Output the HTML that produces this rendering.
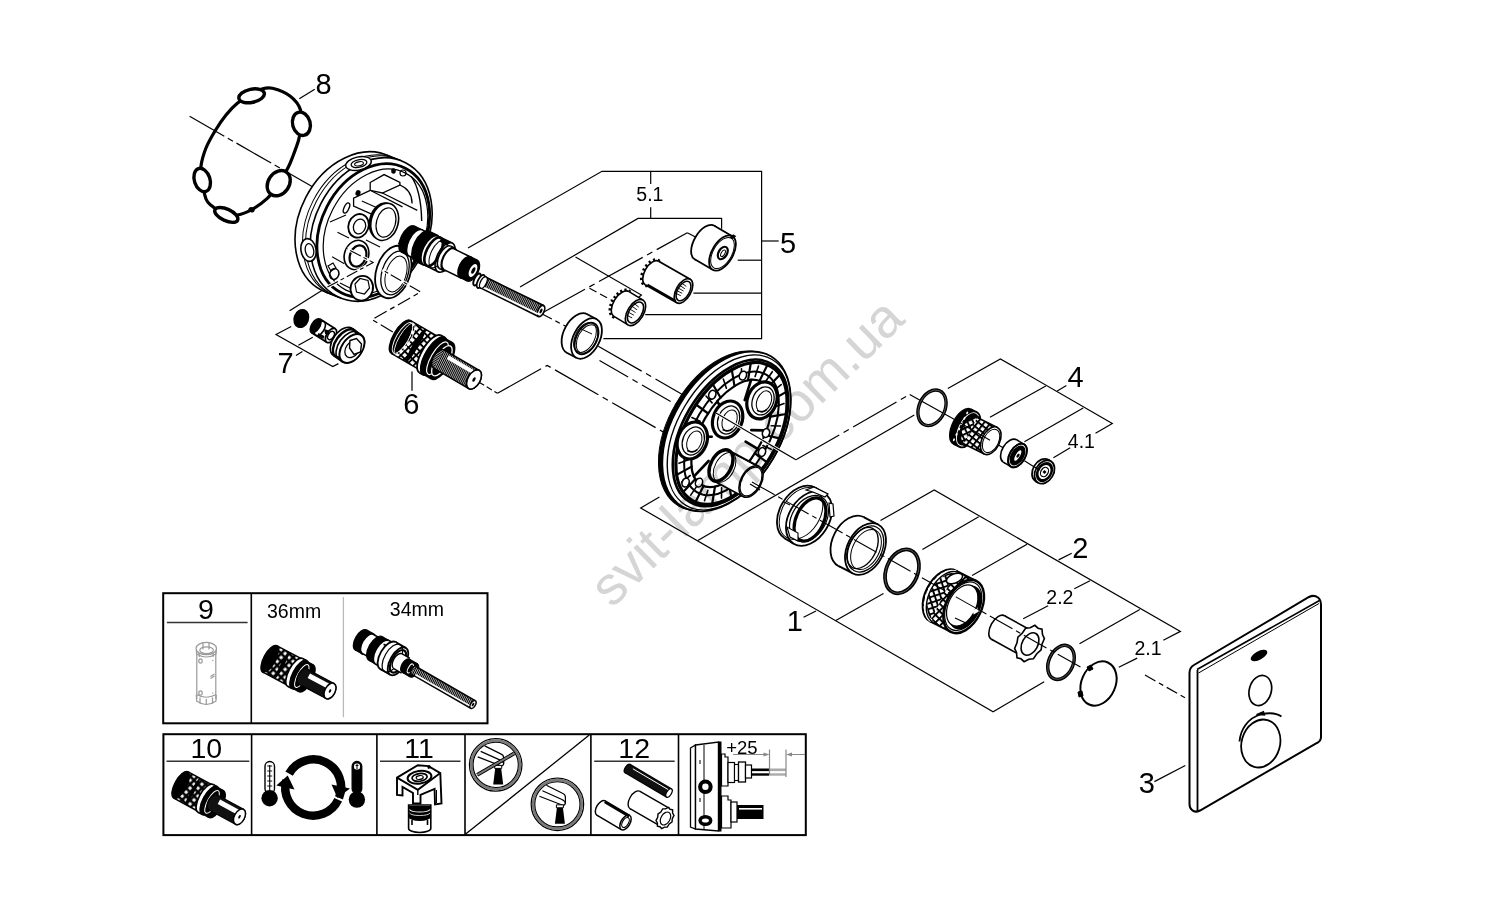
<!DOCTYPE html>
<html><head><meta charset="utf-8"><style>
html,body{margin:0;padding:0;background:#fff;}
body{width:1500px;height:916px;overflow:hidden;position:relative;}
svg{position:absolute;left:0;top:0;display:block;}
text{font-family:"Liberation Sans",sans-serif;}
</style></head><body>
<svg width="1500" height="916" viewBox="0 0 1500 916" stroke-linecap="butt">
<rect width="1500" height="916" fill="#fff"/>
<line x1="189.6" y1="116.3" x2="316" y2="188.7" stroke="#000" stroke-width="1.2" stroke-dasharray="40 4 6 4"/>
<line x1="299.3" y1="98.7" x2="314.7" y2="89.3" stroke="#000" stroke-width="1.2"/>
<polyline points="468,248 602,171.3 761.6,171.3 761.6,338.7 603.4,338.7" stroke="#000" stroke-width="1.2" fill="none"/>
<line x1="761.6" y1="241" x2="778.7" y2="241" stroke="#000" stroke-width="1.2"/>
<line x1="737.7" y1="260.2" x2="761.6" y2="260.2" stroke="#000" stroke-width="1.2"/>
<line x1="693.4" y1="293.1" x2="761.6" y2="293.1" stroke="#000" stroke-width="1.2"/>
<line x1="645.2" y1="314.7" x2="761.6" y2="314.7" stroke="#000" stroke-width="1.2"/>
<line x1="650.7" y1="171.3" x2="650.7" y2="184" stroke="#000" stroke-width="1.2"/>
<line x1="650.7" y1="207.3" x2="650.7" y2="218.4" stroke="#000" stroke-width="1.2"/>
<polyline points="520,287 638,218.4 721.6,218.4 721.6,228.7" stroke="#000" stroke-width="1.2" fill="none"/>
<polyline points="575.5,256.9 641.4,295 634.9,300.5" stroke="#000" stroke-width="1.2" fill="none"/>
<line x1="541.2" y1="313.5" x2="687.3" y2="232.7" stroke="#000" stroke-width="1.2" stroke-dasharray="50 5 6 5"/>
<line x1="687.3" y1="232.7" x2="696" y2="237.3" stroke="#000" stroke-width="1.2"/>
<line x1="589.5" y1="288.2" x2="612.3" y2="300.7" stroke="#000" stroke-width="1.2" stroke-dasharray="8 4"/>
<line x1="541.2" y1="313.5" x2="566.2" y2="326.5" stroke="#000" stroke-width="1.2" stroke-dasharray="12 4 5 4"/>
<line x1="598.3" y1="346.2" x2="684.1" y2="395.5" stroke="#000" stroke-width="1.2" stroke-dasharray="50 5 6 5"/>
<line x1="599.5" y1="360.6" x2="678.1" y2="405.7" stroke="#000" stroke-width="1.2" stroke-dasharray="33 5 6 5"/>
<polyline points="291.2,326.5 276,334.5 332.8,366.5 338.4,363.6" stroke="#000" stroke-width="1.2" fill="none"/>
<line x1="298.4" y1="345.2" x2="312.8" y2="337.2" stroke="#000" stroke-width="1.2"/>
<polyline points="289.6,310.8 327.4,287.1" stroke="#000" stroke-width="1.2" fill="none"/>
<line x1="296" y1="355.6" x2="302.4" y2="351.6" stroke="#000" stroke-width="1.2"/>
<polyline points="392.8,332 372,319.6 420,292.4" stroke="#000" stroke-width="1.2" fill="none" stroke-dasharray="14 4 5 4"/>
<line x1="412" y1="371.6" x2="412" y2="390.8" stroke="#000" stroke-width="1.2"/>
<polyline points="479,382.2 497.5,393.3" stroke="#000" stroke-width="1.2" fill="none" stroke-dasharray="6 3"/>
<polyline points="497.5,393.3 547.2,365.4 665.5,433.3" stroke="#000" stroke-width="1.2" fill="none" stroke-dasharray="50 5 6 5"/>
<line x1="716" y1="413" x2="795.9" y2="459.8" stroke="#000" stroke-width="1.2"/>
<line x1="795.9" y1="459.8" x2="909.7" y2="394.5" stroke="#000" stroke-width="1.2" stroke-dasharray="50 5 6 5"/>
<line x1="909.7" y1="394.5" x2="951" y2="417.4" stroke="#000" stroke-width="1.2"/>
<line x1="990" y1="440.2" x2="1004.5" y2="448.6" stroke="#000" stroke-width="1.2"/>
<line x1="1024.4" y1="460.8" x2="1034.3" y2="466.9" stroke="#000" stroke-width="1.2"/>
<polyline points="947.8,388.5 1000.4,358.9 1112.3,423.4 1095.5,433.3" stroke="#000" stroke-width="1.2" fill="none"/>
<line x1="1045.8" y1="385.9" x2="990" y2="417.2" stroke="#000" stroke-width="1.2"/>
<line x1="1083.2" y1="408" x2="1024.4" y2="441.7" stroke="#000" stroke-width="1.2"/>
<line x1="1057.2" y1="391" x2="1066.4" y2="385.5" stroke="#000" stroke-width="1.2"/>
<line x1="1053.4" y1="457.7" x2="1070.2" y2="447.8" stroke="#000" stroke-width="1.2"/>
<polyline points="659.4,497 640.7,508 993.1,711.8 1044.2,681.7" stroke="#000" stroke-width="1.2" fill="none"/>
<line x1="697.8" y1="540.5" x2="914.3" y2="415.1" stroke="#000" stroke-width="1.2"/>
<line x1="835.8" y1="620.4" x2="883.5" y2="593.4" stroke="#000" stroke-width="1.2"/>
<line x1="803.6" y1="617.3" x2="816" y2="611" stroke="#000" stroke-width="1.2"/>
<polyline points="880.5,520.6 934.2,490 1180.4,631.4 1163.3,640.3" stroke="#000" stroke-width="1.2" fill="none"/>
<line x1="978.7" y1="516.7" x2="922.4" y2="549.4" stroke="#000" stroke-width="1.2"/>
<line x1="1027.1" y1="544.2" x2="972.1" y2="575.6" stroke="#000" stroke-width="1.2"/>
<line x1="1139.8" y1="609.6" x2="1079.5" y2="643.7" stroke="#000" stroke-width="1.2"/>
<polyline points="1090,580.8 1074.3,588.7" stroke="#000" stroke-width="1.2" fill="none"/>
<line x1="1058.6" y1="559.9" x2="1071.7" y2="553.3" stroke="#000" stroke-width="1.2"/>
<line x1="1023.2" y1="618.8" x2="1048.1" y2="605.7" stroke="#000" stroke-width="1.2"/>
<line x1="1118.8" y1="667.3" x2="1137.2" y2="658.1" stroke="#000" stroke-width="1.2"/>
<line x1="1145" y1="675" x2="1188" y2="699.5" stroke="#000" stroke-width="1.2" stroke-dasharray="12 4 5 4"/>
<line x1="1154.4" y1="781.6" x2="1185.3" y2="765.5" stroke="#000" stroke-width="1.2"/>
<text x="315.4" y="93.6" font-size="29" text-anchor="start" fill="#000">8</text>
<text x="780.1" y="252.5" font-size="29" text-anchor="start" fill="#000">5</text>
<text x="636.3" y="200.7" font-size="19.5" text-anchor="start" fill="#000">5.1</text>
<text x="277.6" y="373.4" font-size="29" text-anchor="start" fill="#000">7</text>
<text x="403.2" y="414" font-size="29" text-anchor="start" fill="#000">6</text>
<text x="1067.4" y="386.5" font-size="29" text-anchor="start" fill="#000">4</text>
<text x="1067.8" y="448.4" font-size="19.5" text-anchor="start" fill="#000">4.1</text>
<text x="1072.3" y="558" font-size="29" text-anchor="start" fill="#000">2</text>
<text x="1046.3" y="603.7" font-size="19.5" text-anchor="start" fill="#000">2.2</text>
<text x="1134.5" y="655" font-size="19.5" text-anchor="start" fill="#000">2.1</text>
<text x="786.8" y="630.5" font-size="29" text-anchor="start" fill="#000">1</text>
<text x="1138.8" y="793" font-size="29" text-anchor="start" fill="#000">3</text>
<g fill="none" stroke="#000">
<rect x="163.2" y="593.2" width="324.3" height="130.1" stroke-width="2"/>
<line x1="251.3" y1="593.2" x2="251.3" y2="723.3" stroke="#000" stroke-width="1.6"/>
<line x1="343.4" y1="597" x2="343.4" y2="717.2" stroke="#bbb" stroke-width="1.3"/>
<rect x="163.4" y="734.2" width="642.4" height="100.9" stroke-width="2"/>
<line x1="251.6" y1="734.2" x2="251.6" y2="835.1" stroke="#000" stroke-width="1.6"/>
<line x1="376.9" y1="734.2" x2="376.9" y2="835.1" stroke="#000" stroke-width="1.6"/>
<line x1="465" y1="734.2" x2="465" y2="835.1" stroke="#000" stroke-width="1.6"/>
<line x1="590.9" y1="734.2" x2="590.9" y2="835.1" stroke="#000" stroke-width="1.6"/>
<line x1="678.5" y1="734.2" x2="678.5" y2="835.1" stroke="#000" stroke-width="1.6"/>
<line x1="465" y1="834.6" x2="589.3" y2="735" stroke="#000" stroke-width="1.3"/>
<line x1="166.9" y1="622.5" x2="247.6" y2="622.5" stroke="#333" stroke-width="1.4"/>
<line x1="166.5" y1="761.3" x2="249.3" y2="761.3" stroke="#333" stroke-width="1.4"/>
<line x1="380" y1="761.3" x2="460.5" y2="761.3" stroke="#333" stroke-width="1.4"/>
<line x1="594.2" y1="761.3" x2="674.7" y2="761.3" stroke="#333" stroke-width="1.4"/>
</g>
<text x="198.1" y="619" font-size="28.5" text-anchor="start" fill="#000">9</text>
<text x="190.4" y="758" font-size="28.5" text-anchor="start" fill="#000">10</text>
<text x="404.2" y="758.4" font-size="28.5" text-anchor="start" fill="#000">11</text>
<text x="618.3" y="758" font-size="28.5" text-anchor="start" fill="#000">12</text>
<text x="267" y="618.3" font-size="19.5" text-anchor="start" fill="#000">36mm</text>
<text x="389.8" y="616.2" font-size="19.5" text-anchor="start" fill="#000">34mm</text>
<text x="726.2" y="753.6" font-size="18.5" text-anchor="start" fill="#000">+25</text>
<path d="M272.5,88.3 C277.2,89.5 285.3,92.4 290,96 C294.7,99.6 298.8,104.3 300.5,110 C302.2,115.7 300.3,125 300,130 C299.7,135 299.9,135.5 298.7,139.8 C297.5,144.1 294.8,151.3 293,156 C291.2,160.7 290.5,163 288,167.8 C285.5,172.6 281.4,179.9 278,185 C274.6,190.1 271.7,194.2 267.3,198.3 C262.9,202.4 256.6,206.9 251.6,209.7 C246.6,212.5 242.2,214.3 237.6,215 C233,215.7 228.3,215.5 224,214 C219.7,212.5 215,208.5 212,206 C209,203.5 207.7,203.3 206,199 C204.3,194.7 202.8,185.5 202,180 C201.2,174.5 200.3,171.3 201,166 C201.7,160.7 203.7,153.8 206,148 C208.3,142.2 211.7,136.5 215,131 C218.3,125.5 222.2,119.7 226,115 C229.8,110.3 233.3,106.5 237.6,103 C241.9,99.5 247.9,96.3 252,94 C256.1,91.7 258.6,90 262,89 C265.4,88 267.8,87.1 272.5,88.3Z" fill="none" stroke="#000" stroke-width="3.2"/>
<ellipse cx="251.6" cy="95.8" rx="13" ry="6.6" fill="#fff" stroke="#000" stroke-width="3.4" transform="rotate(-12 251.6 95.8)"/>
<ellipse cx="301.4" cy="123.8" rx="8.8" ry="11.8" fill="#fff" stroke="#000" stroke-width="3.4" transform="rotate(-15 301.4 123.8)"/>
<ellipse cx="278.7" cy="183.2" rx="10.5" ry="13.5" fill="#fff" stroke="#000" stroke-width="3.4" transform="rotate(35 278.7 183.2)"/>
<ellipse cx="202.2" cy="180" rx="7.8" ry="12" fill="#fff" stroke="#000" stroke-width="3.4" transform="rotate(-18 202.2 180)"/>
<ellipse cx="226.3" cy="214.9" rx="12.5" ry="5.8" fill="#fff" stroke="#000" stroke-width="3.4" transform="rotate(25 226.3 214.9)"/>
<ellipse cx="251.6" cy="209.7" rx="3.2" ry="2.6" fill="#000" transform="rotate(20 251.6 209.7)"/>
<ellipse cx="356" cy="223.5" rx="56.6" ry="75.1" fill="#fff" stroke="#000" stroke-width="1.6" transform="rotate(27.2 356 223.5)"/>
<polygon points="386.5,155 401.7,161 340.7,298 325.5,292" stroke="none" stroke-width="0" fill="#fff"/>
<line x1="386.5" y1="155" x2="401.7" y2="161" stroke="#000" stroke-width="1.6"/>
<line x1="325.5" y1="292" x2="340.7" y2="298" stroke="#000" stroke-width="1.6"/>
<ellipse cx="363.5" cy="226.5" rx="56.6" ry="75.1" fill="none" stroke="#000" stroke-width="1.0" transform="rotate(27.2 363.5 226.5)"/>
<ellipse cx="366.5" cy="227.7" rx="56.6" ry="75.1" fill="none" stroke="#000" stroke-width="1.0" transform="rotate(27.2 366.5 227.7)"/>
<ellipse cx="371.2" cy="229.5" rx="56.6" ry="75.1" fill="#fff" stroke="#000" stroke-width="1.6" transform="rotate(27.2 371.2 229.5)"/>
<ellipse cx="373.3" cy="230.5" rx="52.1" ry="70.1" fill="none" stroke="#000" stroke-width="2.8" transform="rotate(27.2 373.3 230.5)"/>
<ellipse cx="375.5" cy="231.5" rx="48.1" ry="65.6" fill="none" stroke="#000" stroke-width="1.2" transform="rotate(27.2 375.5 231.5)"/>
<ellipse cx="358.5" cy="163.5" rx="13" ry="6.5" fill="#fff" stroke="#000" stroke-width="1.4" transform="rotate(-12 358.5 163.5)"/>
<ellipse cx="359" cy="163.5" rx="8" ry="3.8" fill="none" stroke="#000" stroke-width="1.3" transform="rotate(-12 359 163.5)"/>
<ellipse cx="359" cy="163.8" rx="4.5" ry="2" fill="none" stroke="#000" stroke-width="1.1" transform="rotate(-12 359 163.8)"/>
<ellipse cx="308.5" cy="250" rx="7.5" ry="11.5" fill="#fff" stroke="#000" stroke-width="1.6" transform="rotate(-10 308.5 250)"/>
<ellipse cx="309.5" cy="250.5" rx="4.2" ry="7" fill="none" stroke="#000" stroke-width="1.3" transform="rotate(-10 309.5 250.5)"/>
<polygon points="370.2,182.5 384.1,174.6 399.9,182.5 399.9,185 382.4,193 370.2,190.3" stroke="#000" stroke-width="1.3" fill="#fff"/>
<line x1="370.2" y1="190.3" x2="402.5" y2="206.9" stroke="#000" stroke-width="1.2"/>
<line x1="382.4" y1="193" x2="417.3" y2="210.4" stroke="#000" stroke-width="1.2"/>
<path d="M399.9,185 Q412,190 412.1,203.4" fill="none" stroke="#000" stroke-width="1.3"/>
<polyline points="370.2,190.3 353.6,198.2 353.6,206 378.9,217.4" stroke="#000" stroke-width="1.3" fill="none"/>
<path d="M411.2,176.4 Q421,190 421.7,220.9" fill="none" stroke="#000" stroke-width="1.4"/>
<line x1="337.4" y1="232.3" x2="349" y2="238" stroke="#000" stroke-width="1.1"/>
<line x1="361.8" y1="200.9" x2="381" y2="209.6" stroke="#000" stroke-width="1.1"/>
<line x1="332.1" y1="256.7" x2="344.4" y2="263.7" stroke="#000" stroke-width="1.1"/>
<line x1="366" y1="240" x2="380" y2="247" stroke="#000" stroke-width="1.1"/>
<line x1="398" y1="243" x2="412" y2="250" stroke="#000" stroke-width="1.1"/>
<line x1="340" y1="283" x2="352" y2="289" stroke="#000" stroke-width="1.1"/>
<line x1="330" y1="222" x2="346" y2="215" stroke="#000" stroke-width="1.1"/>
<path d="M328,266 L333,263 L336,268 L331,271 Z" fill="#fff" stroke="#000" stroke-width="1.2"/>
<ellipse cx="358.5" cy="225.8" rx="10" ry="12" fill="#fff" stroke="#000" stroke-width="1.8" transform="rotate(20 358.5 225.8)"/>
<ellipse cx="359.5" cy="226.5" rx="6" ry="7.5" fill="none" stroke="#000" stroke-width="1.3" transform="rotate(20 359.5 226.5)"/>
<ellipse cx="382.5" cy="221" rx="13.5" ry="19" fill="#000" transform="rotate(15 382.5 221)"/>
<ellipse cx="384.7" cy="221.8" rx="13.5" ry="19" fill="#fff" stroke="#000" stroke-width="1.6" transform="rotate(15 384.7 221.8)"/>
<ellipse cx="386" cy="222.5" rx="9.5" ry="15" fill="none" stroke="#000" stroke-width="1.2" transform="rotate(15 386 222.5)"/>
<ellipse cx="356.5" cy="255" rx="12" ry="15" fill="#fff" stroke="#000" stroke-width="1.6" transform="rotate(20 356.5 255)"/>
<ellipse cx="358" cy="256" rx="8" ry="11" fill="none" stroke="#000" stroke-width="2.2" transform="rotate(20 358 256)"/>
<ellipse cx="393.3" cy="272" rx="17" ry="27" fill="#fff" stroke="#000" stroke-width="1.8" transform="rotate(18 393.3 272)"/>
<ellipse cx="395" cy="273" rx="13" ry="22.5" fill="none" stroke="#000" stroke-width="1.3" transform="rotate(18 395 273)"/>
<ellipse cx="396" cy="274" rx="10" ry="18.5" fill="none" stroke="#000" stroke-width="1.0" transform="rotate(18 396 274)"/>
<ellipse cx="361.8" cy="288.2" rx="11.2" ry="12.4" fill="#fff" stroke="#000" stroke-width="1.8" transform="rotate(15 361.8 288.2)"/>
<polygon points="355,284 360,278.5 368,280.5 369.5,288 364.5,294 356.5,292" stroke="#000" stroke-width="1.2" fill="none"/>
<ellipse cx="334.3" cy="274" rx="4.5" ry="5.5" fill="none" stroke="#000" stroke-width="1.5" transform="rotate(20 334.3 274)"/>
<ellipse cx="346.5" cy="208" rx="2.4" ry="5.5" fill="none" stroke="#000" stroke-width="1.4" transform="rotate(25 346.5 208)"/>
<ellipse cx="358" cy="193" rx="2.5" ry="3" fill="#000" transform="rotate(20 358 193)"/>
<ellipse cx="393.5" cy="171" rx="2.3" ry="2.8" fill="#000"/>
<ellipse cx="403" cy="173" rx="3" ry="3" fill="none" stroke="#000" stroke-width="1.2"/>
<g stroke-linecap="butt">
<polyline points="327.4,287.1 373.2,262.5 346.9,248.7" stroke="#fff" stroke-width="3.2" fill="none"/>
<polyline points="327.4,287.1 373.2,262.5 346.9,248.7" stroke="#000" stroke-width="1.1" fill="none" stroke-dasharray="12 3 4 3"/>
<polyline points="420.2,291.7 382.4,269.9" stroke="#fff" stroke-width="3.2" fill="none"/>
<polyline points="420.2,291.7 382.4,269.9" stroke="#000" stroke-width="1.1" fill="none" stroke-dasharray="12 3 4 3"/>
</g>
<ellipse cx="408" cy="239.2" rx="7.2" ry="14.5" fill="#000" stroke="#000" stroke-width="1.4" transform="rotate(26.1 408 239.2)"/>
<polygon points="401.6,252.2 409.3,256 422.1,229.9 414.4,226.2" stroke="none" stroke-width="0" fill="#000"/>
<line x1="401.6" y1="252.2" x2="409.3" y2="256" stroke="#000" stroke-width="1.4"/>
<line x1="422.1" y1="229.9" x2="414.4" y2="226.2" stroke="#000" stroke-width="1.4"/>
<ellipse cx="415.7" cy="243" rx="7.2" ry="14.5" fill="#000" stroke="#000" stroke-width="1.4" transform="rotate(26.1 415.7 243)"/>
<ellipse cx="415.7" cy="243" rx="7.2" ry="14.5" fill="#fff" stroke="#000" stroke-width="1.4" transform="rotate(26.1 415.7 243)"/>
<polygon points="409.3,256 415.7,259.1 428.5,233.1 422.1,229.9" stroke="none" stroke-width="0" fill="#fff"/>
<line x1="409.3" y1="256" x2="415.7" y2="259.1" stroke="#000" stroke-width="1.4"/>
<line x1="428.5" y1="233.1" x2="422.1" y2="229.9" stroke="#000" stroke-width="1.4"/>
<ellipse cx="422.1" cy="246.1" rx="7.2" ry="14.5" fill="#fff" stroke="#000" stroke-width="1.4" transform="rotate(26.1 422.1 246.1)"/>
<ellipse cx="422.1" cy="246.1" rx="8.2" ry="16.5" fill="#000" stroke="#000" stroke-width="1.4" transform="rotate(26.1 422.1 246.1)"/>
<polygon points="414.8,260.9 423.8,265.3 438.3,235.6 429.3,231.3" stroke="none" stroke-width="0" fill="#000"/>
<line x1="414.8" y1="260.9" x2="423.8" y2="265.3" stroke="#000" stroke-width="1.4"/>
<line x1="438.3" y1="235.6" x2="429.3" y2="231.3" stroke="#000" stroke-width="1.4"/>
<ellipse cx="431" cy="250.5" rx="8" ry="16" fill="#fff" stroke="#000" stroke-width="1.6" transform="rotate(26.1 431 250.5)"/>
<polygon points="424,264.8 438.1,271.7 452.1,243 438.1,236.1" stroke="none" stroke-width="0" fill="#fff"/>
<line x1="424" y1="264.8" x2="438.1" y2="271.7" stroke="#000" stroke-width="1.6"/>
<line x1="452.1" y1="243" x2="438.1" y2="236.1" stroke="#000" stroke-width="1.6"/>
<ellipse cx="445.1" cy="257.4" rx="8" ry="16" fill="#fff" stroke="#000" stroke-width="1.6" transform="rotate(26.1 445.1 257.4)"/>
<ellipse cx="433.6" cy="251.7" rx="7" ry="15.5" fill="none" stroke="#000" stroke-width="2.6" transform="rotate(26.1 433.6 251.7)"/>
<ellipse cx="438.1" cy="253.9" rx="7" ry="15" fill="none" stroke="#000" stroke-width="1.0" transform="rotate(26.1 438.1 253.9)"/>
<path d="M439.3,241.5 l8,4 l3,-3 l-8,-4z" fill="#000"/>
<ellipse cx="445.1" cy="257.4" rx="6.2" ry="12.5" fill="#fff" stroke="#000" stroke-width="1.6" transform="rotate(26.1 445.1 257.4)"/>
<polygon points="439.6,268.6 443.5,270.5 454.5,248 450.6,246.1" stroke="none" stroke-width="0" fill="#fff"/>
<line x1="439.6" y1="268.6" x2="443.5" y2="270.5" stroke="#000" stroke-width="1.6"/>
<line x1="454.5" y1="248" x2="450.6" y2="246.1" stroke="#000" stroke-width="1.6"/>
<ellipse cx="449" cy="259.2" rx="6.2" ry="12.5" fill="#fff" stroke="#000" stroke-width="1.6" transform="rotate(26.1 449 259.2)"/>
<ellipse cx="449" cy="259.2" rx="5.8" ry="11.5" fill="#fff" stroke="#000" stroke-width="1.6" transform="rotate(26.1 449 259.2)"/>
<polygon points="443.9,269.6 460.5,277.7 470.7,257 454,248.9" stroke="none" stroke-width="0" fill="#fff"/>
<line x1="443.9" y1="269.6" x2="460.5" y2="277.7" stroke="#000" stroke-width="1.6"/>
<line x1="470.7" y1="257" x2="454" y2="248.9" stroke="#000" stroke-width="1.6"/>
<ellipse cx="465.6" cy="267.4" rx="5.8" ry="11.5" fill="#fff" stroke="#000" stroke-width="1.6" transform="rotate(26.1 465.6 267.4)"/>
<ellipse cx="465.6" cy="267.4" rx="6.3" ry="11.5" fill="#000" stroke="#000" stroke-width="1.4" transform="rotate(26.1 465.6 267.4)"/>
<polygon points="460.5,277.7 466.9,280.8 477.1,260.2 470.7,257" stroke="none" stroke-width="0" fill="#000"/>
<line x1="460.5" y1="277.7" x2="466.9" y2="280.8" stroke="#000" stroke-width="1.4"/>
<line x1="477.1" y1="260.2" x2="470.7" y2="257" stroke="#000" stroke-width="1.4"/>
<ellipse cx="472" cy="270.5" rx="6.3" ry="11.5" fill="#000" stroke="#000" stroke-width="1.4" transform="rotate(26.1 472 270.5)"/>
<ellipse cx="473" cy="270.5" rx="3.5" ry="7" fill="#fff" transform="rotate(26.1 473 270.5)"/>
<ellipse cx="473.3" cy="270.5" rx="1.6" ry="3.5" fill="#000" transform="rotate(26.1 473.3 270.5)"/>
<defs><pattern id="kn" width="5" height="5" patternUnits="userSpaceOnUse" patternTransform="rotate(45)"><rect width="5" height="5" fill="#000"/><rect x="1.3" y="1.3" width="2.6" height="2.6" fill="#fff"/></pattern><pattern id="kn2" width="4.2" height="4.2" patternUnits="userSpaceOnUse" patternTransform="rotate(45)"><rect width="4.2" height="4.2" fill="#000"/><rect x="1.2" y="1.2" width="1.9" height="1.9" fill="#fff"/></pattern><pattern id="thr" width="1.8" height="10" patternUnits="userSpaceOnUse" patternTransform="rotate(26)"><rect width="1.8" height="10" fill="#fff"/><rect width="1.2" height="10" fill="#000"/></pattern><pattern id="thr2" width="2.2" height="10" patternUnits="userSpaceOnUse" patternTransform="rotate(30)"><rect width="2.2" height="10" fill="#fff"/><rect width="1.0" height="10" fill="#000"/></pattern><pattern id="kn3" width="4.6" height="4.6" patternUnits="userSpaceOnUse" patternTransform="rotate(40)"><rect width="4.6" height="4.6" fill="#fff"/><rect width="4.6" height="1.2" fill="#000"/><rect width="1.2" height="4.6" fill="#000"/></pattern><pattern id="kn4" width="5.2" height="5.2" patternUnits="userSpaceOnUse" patternTransform="rotate(38)"><rect width="5.2" height="5.2" fill="#fff"/><rect width="5.2" height="1.9" fill="#000"/><rect width="1.9" height="5.2" fill="#000"/></pattern><pattern id="kn5" width="5.6" height="5.6" patternUnits="userSpaceOnUse" patternTransform="rotate(45)"><rect width="5.6" height="5.6" fill="#000"/><rect x="1.4" y="1.4" width="3" height="3" fill="#fff"/></pattern><pattern id="kn6" width="5.4" height="5.4" patternUnits="userSpaceOnUse" patternTransform="rotate(45)"><rect width="5.4" height="5.4" fill="#000"/><rect x="1" y="1" width="3.5" height="3.5" fill="#fff"/></pattern></defs>
<ellipse cx="483.4" cy="282.6" rx="3" ry="6" fill="url(#thr)" stroke="#000" stroke-width="1.7" transform="rotate(26.2 483.4 282.6)"/>
<polygon points="480.8,288 538.4,316.4 543.6,305.6 486,277.3" stroke="none" stroke-width="0" fill="url(#thr)"/>
<line x1="480.8" y1="288" x2="538.4" y2="316.4" stroke="#000" stroke-width="1.7"/>
<line x1="543.6" y1="305.6" x2="486" y2="277.3" stroke="#000" stroke-width="1.7"/>
<ellipse cx="541" cy="311" rx="3" ry="6" fill="#fff" stroke="#000" stroke-width="1.7" transform="rotate(26.2 541 311)"/>
<polygon points="483.3,286.2 538.3,313.2 537.4,315 482.4,287.9" stroke="none" stroke-width="0" fill="#fff"/>
<ellipse cx="477" cy="279.5" rx="2.6" ry="6.5" fill="#fff" stroke="#000" stroke-width="1.8" transform="rotate(26.2 477 279.5)"/>
<ellipse cx="480.8" cy="281.4" rx="3" ry="7.2" fill="#fff" stroke="#000" stroke-width="1.8" transform="rotate(26.2 480.8 281.4)"/>
<ellipse cx="483.4" cy="282.6" rx="3" ry="6.3" fill="#fff" stroke="#000" stroke-width="1.4" transform="rotate(26.2 483.4 282.6)"/>
<ellipse cx="541" cy="311" rx="1.2" ry="2.6" fill="#000" transform="rotate(26.2 541 311)"/>
<ellipse cx="301.3" cy="318.5" rx="7.8" ry="9.8" fill="#000" transform="rotate(20 301.3 318.5)"/>
<ellipse cx="316" cy="326" rx="4.4" ry="8" fill="#fff" stroke="#000" stroke-width="1.8" transform="rotate(32.3 316 326)"/>
<polygon points="311.7,332.8 326.7,342.3 335.3,328.7 320.3,319.2" stroke="none" stroke-width="0" fill="#fff"/>
<line x1="311.7" y1="332.8" x2="326.7" y2="342.3" stroke="#000" stroke-width="1.8"/>
<line x1="335.3" y1="328.7" x2="320.3" y2="319.2" stroke="#000" stroke-width="1.8"/>
<ellipse cx="331" cy="335.5" rx="4.4" ry="8" fill="#fff" stroke="#000" stroke-width="1.8" transform="rotate(32.3 331 335.5)"/>
<ellipse cx="316" cy="326" rx="4.4" ry="8" fill="#000" transform="rotate(32.3 316 326)"/>
<ellipse cx="319.8" cy="328.4" rx="4.4" ry="8" fill="none" stroke="#000" stroke-width="1.6" transform="rotate(32.3 319.8 328.4)"/>
<path d="M324.1,329.0 l5,1.5 l1,5 l-5,-1.5z" fill="#000"/>
<path d="M318.4,333.1 l6,3 l-1,3 l-6,-3z" fill="#000"/>
<ellipse cx="331" cy="335.5" rx="2.8" ry="4.5" fill="#fff" stroke="#000" stroke-width="1.4" transform="rotate(32.3 331 335.5)"/>
<line x1="334" y1="339" x2="340" y2="342" stroke="#000" stroke-width="1.2"/>
<ellipse cx="343" cy="342" rx="10.2" ry="16.5" fill="#fff" stroke="#000" stroke-width="1.6" transform="rotate(35.8 343 342)"/>
<polygon points="333.3,355.4 342.3,361.9 361.7,335.1 352.7,328.6" stroke="none" stroke-width="0" fill="#fff"/>
<line x1="333.3" y1="355.4" x2="342.3" y2="361.9" stroke="#000" stroke-width="1.6"/>
<line x1="361.7" y1="335.1" x2="352.7" y2="328.6" stroke="#000" stroke-width="1.6"/>
<ellipse cx="352" cy="348.5" rx="10.2" ry="16.5" fill="#fff" stroke="#000" stroke-width="1.6" transform="rotate(35.8 352 348.5)"/>
<ellipse cx="344.8" cy="343.3" rx="9" ry="16" fill="none" stroke="#000" stroke-width="2.4" transform="rotate(35.8 344.8 343.3)"/>
<ellipse cx="347.9" cy="345.6" rx="9" ry="16" fill="none" stroke="#000" stroke-width="1.6" transform="rotate(35.8 347.9 345.6)"/>
<ellipse cx="352" cy="348.5" rx="10" ry="16" fill="#fff" stroke="#000" stroke-width="1.6" transform="rotate(35.8 352 348.5)"/>
<ellipse cx="352.5" cy="349" rx="6.5" ry="9.5" fill="#fff" stroke="#000" stroke-width="1.3" transform="rotate(35.8 352.5 349)"/>
<polygon points="350,340.5 356.5,338.5 361.5,344 360.5,352 354,354.5 349.5,348" stroke="#000" stroke-width="1.4" fill="#fff"/>
<ellipse cx="401" cy="337" rx="7.6" ry="19" fill="url(#kn6)" stroke="#000" stroke-width="1.6" transform="rotate(30.2 401 337)"/>
<polygon points="391.4,353.4 420.6,370.4 439.8,337.6 410.6,320.6" stroke="none" stroke-width="0" fill="url(#kn6)"/>
<line x1="391.4" y1="353.4" x2="420.6" y2="370.4" stroke="#000" stroke-width="1.6"/>
<line x1="439.8" y1="337.6" x2="410.6" y2="320.6" stroke="#000" stroke-width="1.6"/>
<ellipse cx="401" cy="337" rx="7.6" ry="19" fill="#000" transform="rotate(30.2 401 337)"/>
<ellipse cx="402.5" cy="337.9" rx="6.1" ry="17.5" fill="none" stroke="#fff" stroke-width="0.9" transform="rotate(30.2 402.5 337.9)"/>
<ellipse cx="404.6" cy="339.1" rx="5.7" ry="18.2" fill="none" stroke="#fff" stroke-width="0.8" transform="rotate(30.2 404.6 339.1)"/>
<ellipse cx="415.6" cy="345.5" rx="3" ry="19" fill="#000" transform="rotate(30.2 415.6 345.5)"/>
<ellipse cx="430.2" cy="354" rx="7.6" ry="19" fill="#000" transform="rotate(30.2 430.2 354)"/>
<ellipse cx="430.2" cy="354" rx="8.6" ry="21.5" fill="#fff" stroke="#000" stroke-width="1.8" transform="rotate(30.2 430.2 354)"/>
<polygon points="419.4,372.6 423,374.7 444.7,337.5 441,335.4" stroke="none" stroke-width="0" fill="#fff"/>
<line x1="419.4" y1="372.6" x2="423" y2="374.7" stroke="#000" stroke-width="1.8"/>
<line x1="444.7" y1="337.5" x2="441" y2="335.4" stroke="#000" stroke-width="1.8"/>
<ellipse cx="433.9" cy="356.1" rx="8.6" ry="21.5" fill="#fff" stroke="#000" stroke-width="1.8" transform="rotate(30.2 433.9 356.1)"/>
<ellipse cx="433.9" cy="356.1" rx="8.4" ry="21" fill="#000" stroke="#000" stroke-width="1.4" transform="rotate(30.2 433.9 356.1)"/>
<polygon points="423.3,374.3 431.3,378.9 452.4,342.7 444.4,338" stroke="none" stroke-width="0" fill="#000"/>
<line x1="423.3" y1="374.3" x2="431.3" y2="378.9" stroke="#000" stroke-width="1.4"/>
<line x1="452.4" y1="342.7" x2="444.4" y2="338" stroke="#000" stroke-width="1.4"/>
<ellipse cx="441.9" cy="360.8" rx="8.4" ry="21" fill="#000" stroke="#000" stroke-width="1.4" transform="rotate(30.2 441.9 360.8)"/>
<ellipse cx="437.5" cy="358.2" rx="6.5" ry="18.5" fill="none" stroke="#fff" stroke-width="1.2" transform="rotate(30.2 437.5 358.2)"/>
<ellipse cx="441.9" cy="360.8" rx="6.5" ry="17" fill="#000" stroke="#fff" stroke-width="1.3" transform="rotate(30.2 441.9 360.8)"/>
<ellipse cx="439" cy="359.1" rx="6.1" ry="10.5" fill="url(#thr)" stroke="#000" stroke-width="1.5" transform="rotate(30.2 439 359.1)"/>
<polygon points="433.7,368.2 468.7,388.6 479.3,370.4 444.2,350" stroke="none" stroke-width="0" fill="url(#thr)"/>
<line x1="433.7" y1="368.2" x2="468.7" y2="388.6" stroke="#000" stroke-width="1.5"/>
<line x1="479.3" y1="370.4" x2="444.2" y2="350" stroke="#000" stroke-width="1.5"/>
<ellipse cx="474" cy="379.5" rx="6.1" ry="10.5" fill="#fff" stroke="#000" stroke-width="1.5" transform="rotate(30.2 474 379.5)"/>
<polygon points="446.8,359 471.6,373.5 473.6,370 448.8,355.6" stroke="none" stroke-width="0" fill="#fff"/>
<ellipse cx="474" cy="379.5" rx="6.1" ry="10.5" fill="#fff" stroke="#000" stroke-width="1.6" transform="rotate(30.2 474 379.5)"/>
<ellipse cx="474" cy="379.5" rx="1.3" ry="2.5" fill="#000" transform="rotate(30.2 474 379.5)"/>
<ellipse cx="577" cy="333.5" rx="13.1" ry="21.8" fill="#fff" stroke="#000" stroke-width="1.8" transform="rotate(27.8 577 333.5)"/>
<polygon points="566.8,352.8 576.3,357.8 596.7,319.2 587.2,314.2" stroke="none" stroke-width="0" fill="#fff"/>
<line x1="566.8" y1="352.8" x2="576.3" y2="357.8" stroke="#000" stroke-width="1.8"/>
<line x1="596.7" y1="319.2" x2="587.2" y2="314.2" stroke="#000" stroke-width="1.8"/>
<ellipse cx="586.5" cy="338.5" rx="13.1" ry="21.8" fill="#fff" stroke="#000" stroke-width="1.8" transform="rotate(27.8 586.5 338.5)"/>
<ellipse cx="586.5" cy="338.5" rx="10.2" ry="17" fill="#fff" stroke="#000" stroke-width="1.8" transform="rotate(27.8 586.5 338.5)"/>
<ellipse cx="587.1" cy="338.9" rx="9.2" ry="15.3" fill="none" stroke="#000" stroke-width="1.0" transform="rotate(27.8 587.1 338.9)"/>
<ellipse cx="585" cy="337.5" rx="9.7" ry="16.1" fill="none" stroke="#000" stroke-width="1.0" transform="rotate(27.8 585 337.5)"/>
<line x1="579" y1="328" x2="592" y2="334" stroke="#000" stroke-width="1.0"/>
<ellipse cx="620.9" cy="303.7" rx="8.8" ry="15.3" fill="none" stroke="#000" stroke-width="2.8" stroke-dasharray="2.2 2.2" transform="rotate(31.3 620.9 303.7)"/>
<ellipse cx="621.5" cy="304" rx="8" ry="14.5" fill="#fff" stroke="#000" stroke-width="1.6" transform="rotate(31.3 621.5 304)"/>
<polygon points="614,316.4 628,324.9 643,300.1 629,291.6" stroke="none" stroke-width="0" fill="#fff"/>
<line x1="614" y1="316.4" x2="628" y2="324.9" stroke="#000" stroke-width="1.6"/>
<line x1="643" y1="300.1" x2="629" y2="291.6" stroke="#000" stroke-width="1.6"/>
<ellipse cx="635.5" cy="312.5" rx="8" ry="14.5" fill="#fff" stroke="#000" stroke-width="1.6" transform="rotate(31.3 635.5 312.5)"/>
<ellipse cx="635.5" cy="312.5" rx="6.4" ry="11.6" fill="#fff" stroke="#000" stroke-width="1.6" transform="rotate(31.3 635.5 312.5)"/>
<line x1="633.5" y1="303.1" x2="638.8" y2="307.1" stroke="#000" stroke-width="0.9"/>
<line x1="631.7" y1="306.1" x2="637.1" y2="309.8" stroke="#000" stroke-width="0.9"/>
<line x1="629.9" y1="309.1" x2="635.5" y2="312.5" stroke="#000" stroke-width="0.9"/>
<line x1="628.1" y1="312.1" x2="633.9" y2="315.2" stroke="#000" stroke-width="0.9"/>
<line x1="626.3" y1="315.1" x2="632.2" y2="317.9" stroke="#000" stroke-width="0.9"/>
<ellipse cx="651.4" cy="272.7" rx="8.2" ry="14.3" fill="none" stroke="#000" stroke-width="2.8" stroke-dasharray="2.2 2.6" transform="rotate(29.7 651.4 272.7)"/>
<ellipse cx="652" cy="273" rx="7.4" ry="13.5" fill="#fff" stroke="#000" stroke-width="1.7" transform="rotate(29.7 652 273)"/>
<polygon points="645.3,284.7 676.8,302.7 690.2,279.3 658.7,261.3" stroke="none" stroke-width="0" fill="#fff"/>
<line x1="645.3" y1="284.7" x2="676.8" y2="302.7" stroke="#000" stroke-width="1.7"/>
<line x1="690.2" y1="279.3" x2="658.7" y2="261.3" stroke="#000" stroke-width="1.7"/>
<ellipse cx="683.5" cy="291" rx="7.4" ry="13.5" fill="#fff" stroke="#000" stroke-width="1.7" transform="rotate(29.7 683.5 291)"/>
<ellipse cx="683.5" cy="291" rx="5.9" ry="10.8" fill="#fff" stroke="#000" stroke-width="1.5" transform="rotate(29.7 683.5 291)"/>
<line x1="680.8" y1="282.6" x2="686.2" y2="286.3" stroke="#000" stroke-width="0.9"/>
<line x1="679.3" y1="285.2" x2="684.8" y2="288.7" stroke="#000" stroke-width="0.9"/>
<line x1="677.8" y1="287.8" x2="683.5" y2="291" stroke="#000" stroke-width="0.9"/>
<line x1="676.3" y1="290.4" x2="682.2" y2="293.3" stroke="#000" stroke-width="0.9"/>
<line x1="674.9" y1="293" x2="680.8" y2="295.7" stroke="#000" stroke-width="0.9"/>
<line x1="647.4" y1="284.8" x2="675.7" y2="301" stroke="#000" stroke-width="2.4"/>
<ellipse cx="704.5" cy="242.5" rx="10.5" ry="19.5" fill="#fff" stroke="#000" stroke-width="1.8" transform="rotate(30.3 704.5 242.5)"/>
<polygon points="694.7,259.3 712.7,269.8 732.3,236.2 714.3,225.7" stroke="none" stroke-width="0" fill="#fff"/>
<line x1="694.7" y1="259.3" x2="712.7" y2="269.8" stroke="#000" stroke-width="1.8"/>
<line x1="732.3" y1="236.2" x2="714.3" y2="225.7" stroke="#000" stroke-width="1.8"/>
<ellipse cx="722.5" cy="253" rx="10.5" ry="19.5" fill="#fff" stroke="#000" stroke-width="1.8" transform="rotate(30.3 722.5 253)"/>
<ellipse cx="722.5" cy="253" rx="9.3" ry="17.2" fill="none" stroke="#000" stroke-width="1.0" transform="rotate(30.3 722.5 253)"/>
<ellipse cx="722.8" cy="253" rx="4.2" ry="6.8" fill="none" stroke="#000" stroke-width="2.2" transform="rotate(30.3 722.8 253)"/>
<ellipse cx="723" cy="253.3" rx="1.8" ry="3.6" fill="none" stroke="#000" stroke-width="1.0" transform="rotate(30.3 723 253.3)"/>
<path d="M729.3,237.3 l4,-3 l3,2 l-4,3z" fill="#000"/>
<ellipse cx="723" cy="430.9" rx="54.4" ry="87.2" fill="#000" stroke="#000" stroke-width="1.0" transform="rotate(30.6 723 430.9)"/>
<ellipse cx="726.5" cy="431.4" rx="53.9" ry="87.2" fill="#fff" stroke="#000" stroke-width="1.8" transform="rotate(30.6 726.5 431.4)"/>
<ellipse cx="729" cy="432.4" rx="51.4" ry="84.7" fill="none" stroke="#000" stroke-width="1.4" transform="rotate(30.6 729 432.4)"/>
<ellipse cx="730.5" cy="432.9" rx="47.4" ry="80.2" fill="none" stroke="#000" stroke-width="2.6" transform="rotate(30.6 730.5 432.9)"/>
<ellipse cx="731.5" cy="433.4" rx="44.4" ry="76.7" fill="none" stroke="#000" stroke-width="1.2" transform="rotate(30.6 731.5 433.4)"/>
<ellipse cx="731.5" cy="433.4" rx="45.4" ry="77.7" fill="#fff" stroke="#000" stroke-width="3.2" transform="rotate(30.6 731.5 433.4)"/>
<ellipse cx="731.5" cy="433.4" rx="37.4" ry="68.2" fill="none" stroke="#000" stroke-width="2.0" transform="rotate(30.6 731.5 433.4)"/>
<ellipse cx="731.5" cy="433.4" rx="30.4" ry="59.7" fill="none" stroke="#000" stroke-width="2.2" transform="rotate(30.6 731.5 433.4)"/>
<g stroke="#000" stroke-width="2.2" stroke-linecap="round">
<line x1="767.0" y1="462.3" x2="754.9" y2="453.3"/>
<line x1="750.2" y1="482.6" x2="742.4" y2="469.1"/>
<line x1="731.2" y1="497.0" x2="728.5" y2="480.7"/>
<line x1="712.2" y1="503.8" x2="715.0" y2="486.5"/>
<line x1="695.5" y1="502.0" x2="703.5" y2="485.9"/>
<line x1="683.2" y1="492.0" x2="695.4" y2="479.0"/>
<line x1="676.7" y1="474.9" x2="691.6" y2="466.6"/>
<line x1="676.8" y1="452.8" x2="692.6" y2="450.2"/>
<line x1="683.5" y1="428.4" x2="698.4" y2="431.8"/>
<line x1="696.0" y1="404.5" x2="708.1" y2="413.5"/>
<line x1="712.8" y1="384.2" x2="720.6" y2="397.7"/>
<line x1="731.8" y1="369.8" x2="734.5" y2="386.1"/>
<line x1="750.8" y1="363.0" x2="748.0" y2="380.3"/>
<line x1="767.5" y1="364.8" x2="759.5" y2="380.9"/>
<line x1="779.8" y1="374.8" x2="767.6" y2="387.8"/>
<line x1="786.3" y1="391.9" x2="771.4" y2="400.2"/>
<line x1="786.2" y1="414.0" x2="770.4" y2="416.6"/>
<line x1="779.5" y1="438.4" x2="764.6" y2="435.0"/>
<line x1="757.0" y1="470.8" x2="750.9" y2="463.9" stroke-width="1.6"/>
<line x1="739.7" y1="487.7" x2="736.6" y2="478.5" stroke-width="1.6"/>
<line x1="721.5" y1="498.1" x2="721.6" y2="487.7" stroke-width="1.6"/>
<line x1="704.5" y1="500.7" x2="707.9" y2="490.3" stroke-width="1.6"/>
<line x1="690.7" y1="495.1" x2="696.9" y2="486.1" stroke-width="1.6"/>
<line x1="681.8" y1="482.2" x2="690.2" y2="475.5" stroke-width="1.6"/>
<line x1="679.0" y1="463.3" x2="688.4" y2="459.8" stroke-width="1.6"/>
<line x1="682.5" y1="440.8" x2="691.8" y2="441.0" stroke-width="1.6"/>
<line x1="691.9" y1="417.5" x2="700.1" y2="421.2" stroke-width="1.6"/>
<line x1="706.0" y1="396.0" x2="712.1" y2="402.9" stroke-width="1.6"/>
<line x1="723.3" y1="379.1" x2="726.4" y2="388.3" stroke-width="1.6"/>
<line x1="741.5" y1="368.7" x2="741.4" y2="379.1" stroke-width="1.6"/>
<line x1="758.5" y1="366.1" x2="755.1" y2="376.5" stroke-width="1.6"/>
<line x1="772.3" y1="371.7" x2="766.1" y2="380.7" stroke-width="1.6"/>
<line x1="781.2" y1="384.6" x2="772.8" y2="391.3" stroke-width="1.6"/>
<line x1="784.0" y1="403.5" x2="774.6" y2="407.0" stroke-width="1.6"/>
<line x1="780.5" y1="426.0" x2="771.2" y2="425.8" stroke-width="1.6"/>
<line x1="771.1" y1="449.3" x2="762.9" y2="445.6" stroke-width="1.6"/>
<line x1="757.7" y1="448.9" x2="745.6" y2="441.7" stroke-width="2.6"/>
<line x1="725.0" y1="482.7" x2="725.9" y2="463.6" stroke-width="2.6"/>
<line x1="694.0" y1="476.4" x2="708.6" y2="461.0" stroke-width="2.6"/>
<line x1="696.5" y1="436.4" x2="711.7" y2="436.7" stroke-width="2.6"/>
<line x1="717.3" y1="401.3" x2="724.8" y2="414.5" stroke-width="2.6"/>
<line x1="751.1" y1="379.8" x2="744.7" y2="400.1" stroke-width="2.6"/>
<line x1="770.9" y1="396.6" x2="755.2" y2="409.5" stroke-width="2.6"/>
<line x1="766.5" y1="430.4" x2="751.3" y2="430.1" stroke-width="2.6"/>
</g>
<ellipse cx="762" cy="400.4" rx="14.5" ry="19" fill="#fff" stroke="#000" stroke-width="3.2" transform="rotate(22 762 400.4)"/>
<ellipse cx="763" cy="400.9" rx="10.5" ry="14.5" fill="#fff" stroke="#000" stroke-width="1.3" transform="rotate(22 763 400.9)"/>
<ellipse cx="764" cy="401.4" rx="7" ry="11" fill="none" stroke="#000" stroke-width="1.0" transform="rotate(22 764 401.4)"/>
<path d="M757.0,410.4 q6,3 10,-1" fill="none" stroke="#000" stroke-width="1.6"/>
<ellipse cx="727.6" cy="419.5" rx="14.5" ry="19" fill="#fff" stroke="#000" stroke-width="3.2" transform="rotate(22 727.6 419.5)"/>
<ellipse cx="728.6" cy="420" rx="10.5" ry="14.5" fill="#fff" stroke="#000" stroke-width="1.3" transform="rotate(22 728.6 420)"/>
<ellipse cx="729.6" cy="420.5" rx="7" ry="11" fill="none" stroke="#000" stroke-width="1.0" transform="rotate(22 729.6 420.5)"/>
<path d="M722.6,429.5 q6,3 10,-1" fill="none" stroke="#000" stroke-width="1.6"/>
<ellipse cx="692.3" cy="440.5" rx="14.5" ry="19" fill="#fff" stroke="#000" stroke-width="3.2" transform="rotate(22 692.3 440.5)"/>
<ellipse cx="693.3" cy="441" rx="10.5" ry="14.5" fill="#fff" stroke="#000" stroke-width="1.3" transform="rotate(22 693.3 441)"/>
<ellipse cx="694.3" cy="441.5" rx="7" ry="11" fill="none" stroke="#000" stroke-width="1.0" transform="rotate(22 694.3 441.5)"/>
<path d="M687.3,450.5 q6,3 10,-1" fill="none" stroke="#000" stroke-width="1.6"/>
<ellipse cx="742.9" cy="375.6" rx="3.5" ry="4.5" fill="#fff" stroke="#000" stroke-width="1.6" transform="rotate(20 742.9 375.6)"/>
<ellipse cx="712.3" cy="394.7" rx="3.5" ry="4.5" fill="#fff" stroke="#000" stroke-width="1.6" transform="rotate(20 712.3 394.7)"/>
<ellipse cx="685.6" cy="482.6" rx="3.5" ry="4.5" fill="#fff" stroke="#000" stroke-width="1.6" transform="rotate(20 685.6 482.6)"/>
<ellipse cx="699" cy="482.6" rx="3.5" ry="4.5" fill="#fff" stroke="#000" stroke-width="1.6" transform="rotate(20 699 482.6)"/>
<ellipse cx="762" cy="452" rx="3.5" ry="4.5" fill="#fff" stroke="#000" stroke-width="1.6" transform="rotate(20 762 452)"/>
<ellipse cx="766" cy="433" rx="3.5" ry="4.5" fill="#fff" stroke="#000" stroke-width="1.6" transform="rotate(20 766 433)"/>
<ellipse cx="721" cy="465.5" rx="10.2" ry="17" fill="#fff" stroke="#000" stroke-width="1.6" transform="rotate(28.1 721 465.5)"/>
<polygon points="713,480.5 743,496.5 759,466.5 729,450.5" stroke="none" stroke-width="0" fill="#fff"/>
<line x1="713" y1="480.5" x2="743" y2="496.5" stroke="#000" stroke-width="1.6"/>
<line x1="759" y1="466.5" x2="729" y2="450.5" stroke="#000" stroke-width="1.6"/>
<ellipse cx="751" cy="481.5" rx="10.2" ry="17" fill="#fff" stroke="#000" stroke-width="1.6" transform="rotate(28.1 751 481.5)"/>
<ellipse cx="721" cy="465.5" rx="10.2" ry="17" fill="#fff" stroke="#000" stroke-width="3.4" transform="rotate(28.1 721 465.5)"/>
<ellipse cx="724.6" cy="467.4" rx="9.6" ry="16" fill="none" stroke="#000" stroke-width="1.0" transform="rotate(28.1 724.6 467.4)"/>
<line x1="733.1" y1="453.6" x2="757.1" y2="466.4" stroke="#000" stroke-width="1.0"/>
<ellipse cx="751" cy="481.5" rx="9.3" ry="15.5" fill="none" stroke="#000" stroke-width="1.2" transform="rotate(28.1 751 481.5)"/>
<polyline points="716,413 795.9,459.8" stroke="#fff" stroke-width="3" fill="none"/>
<line x1="716" y1="413" x2="795.9" y2="459.8" stroke="#000" stroke-width="1.2"/>
<line x1="760" y1="490" x2="750" y2="484" stroke="#000" stroke-width="1.2"/>
<ellipse cx="932" cy="407.8" rx="13" ry="18.6" fill="none" stroke="#000" stroke-width="3.4" transform="rotate(24 932 407.8)"/>
<ellipse cx="932" cy="407.8" rx="13" ry="18.6" fill="none" stroke="#999" stroke-width="0.5" transform="rotate(24 932 407.8)"/>
<ellipse cx="962" cy="426.5" rx="9.8" ry="19.5" fill="#000" stroke="#000" stroke-width="1.4" transform="rotate(26.2 962 426.5)"/>
<polygon points="953.4,444 959.7,447.1 977,412.1 970.6,409" stroke="none" stroke-width="0" fill="#000"/>
<line x1="953.4" y1="444" x2="959.7" y2="447.1" stroke="#000" stroke-width="1.4"/>
<line x1="977" y1="412.1" x2="970.6" y2="409" stroke="#000" stroke-width="1.4"/>
<ellipse cx="968.3" cy="429.6" rx="9.8" ry="19.5" fill="#000" stroke="#000" stroke-width="1.4" transform="rotate(26.2 968.3 429.6)"/>
<ellipse cx="967.2" cy="412.9" rx="0.9" ry="1.5" fill="#fff" transform="rotate(26.2 967.2 412.9)"/>
<ellipse cx="964.5" cy="418.3" rx="0.9" ry="1.5" fill="#fff" transform="rotate(26.2 964.5 418.3)"/>
<ellipse cx="961.8" cy="423.7" rx="0.9" ry="1.5" fill="#fff" transform="rotate(26.2 961.8 423.7)"/>
<ellipse cx="959.2" cy="429.1" rx="0.9" ry="1.5" fill="#fff" transform="rotate(26.2 959.2 429.1)"/>
<ellipse cx="956.5" cy="434.5" rx="0.9" ry="1.5" fill="#fff" transform="rotate(26.2 956.5 434.5)"/>
<ellipse cx="953.9" cy="439.8" rx="0.9" ry="1.5" fill="#fff" transform="rotate(26.2 953.9 439.8)"/>
<ellipse cx="967.8" cy="429.3" rx="9" ry="18" fill="none" stroke="#fff" stroke-width="0.9" transform="rotate(26.2 967.8 429.3)"/>
<ellipse cx="970.6" cy="430.8" rx="8" ry="16" fill="#fff" stroke="#000" stroke-width="1.4" transform="rotate(26.2 970.6 430.8)"/>
<ellipse cx="970.6" cy="430.8" rx="8.9" ry="14.8" fill="url(#kn4)" stroke="#000" stroke-width="1.6" transform="rotate(26.2 970.6 430.8)"/>
<polygon points="964.1,444 984.3,454 997.3,427.4 977.2,417.5" stroke="none" stroke-width="0" fill="url(#kn4)"/>
<line x1="964.1" y1="444" x2="984.3" y2="454" stroke="#000" stroke-width="1.6"/>
<line x1="997.3" y1="427.4" x2="977.2" y2="417.5" stroke="#000" stroke-width="1.6"/>
<ellipse cx="990.8" cy="440.7" rx="8.9" ry="14.8" fill="#fff" stroke="#000" stroke-width="1.6" transform="rotate(26.2 990.8 440.7)"/>
<ellipse cx="991.1" cy="440.9" rx="7.5" ry="12.5" fill="none" stroke="#000" stroke-width="1.0" transform="rotate(26.2 991.1 440.9)"/>
<line x1="951" y1="417.4" x2="990" y2="440.2" stroke="#000" stroke-width="1.2"/>
<ellipse cx="1010" cy="451" rx="7.8" ry="13" fill="#fff" stroke="#000" stroke-width="1.6" transform="rotate(31 1010 451)"/>
<polygon points="1003.3,462.1 1010.8,466.6 1024.2,444.4 1016.7,439.9" stroke="none" stroke-width="0" fill="#fff"/>
<line x1="1003.3" y1="462.1" x2="1010.8" y2="466.6" stroke="#000" stroke-width="1.6"/>
<line x1="1024.2" y1="444.4" x2="1016.7" y2="439.9" stroke="#000" stroke-width="1.6"/>
<ellipse cx="1017.5" cy="455.5" rx="7.8" ry="13" fill="#fff" stroke="#000" stroke-width="1.6" transform="rotate(31 1017.5 455.5)"/>
<ellipse cx="1017.5" cy="455.5" rx="6.6" ry="11" fill="#000" transform="rotate(31 1017.5 455.5)"/>
<ellipse cx="1017.8" cy="455.5" rx="2.1" ry="6" fill="#fff" transform="rotate(31 1017.8 455.5)"/>
<ellipse cx="1018" cy="455.7" rx="1.2" ry="2.2" fill="#000" transform="rotate(31 1018 455.7)"/>
<ellipse cx="1017.5" cy="455.5" rx="7.8" ry="13" fill="none" stroke="#000" stroke-width="1.8" transform="rotate(31 1017.5 455.5)"/>
<ellipse cx="1042" cy="470.5" rx="9" ry="12.5" fill="#fff" stroke="#000" stroke-width="1.8" transform="rotate(31 1042 470.5)"/>
<polygon points="1035.6,481.2 1038.1,482.7 1050.9,461.3 1048.4,459.8" stroke="none" stroke-width="0" fill="#fff"/>
<line x1="1035.6" y1="481.2" x2="1038.1" y2="482.7" stroke="#000" stroke-width="1.8"/>
<line x1="1050.9" y1="461.3" x2="1048.4" y2="459.8" stroke="#000" stroke-width="1.8"/>
<ellipse cx="1044.5" cy="472" rx="9" ry="12.5" fill="#fff" stroke="#000" stroke-width="1.8" transform="rotate(31 1044.5 472)"/>
<ellipse cx="1044.5" cy="472" rx="7.8" ry="10.8" fill="#000" transform="rotate(31 1044.5 472)"/>
<ellipse cx="1044.5" cy="472" rx="5.4" ry="7.5" fill="#fff" transform="rotate(31 1044.5 472)"/>
<ellipse cx="1044.5" cy="472" rx="3.6" ry="5" fill="none" stroke="#000" stroke-width="1.2" transform="rotate(31 1044.5 472)"/>
<path d="M1044.5,470.0 l2,2 l-2,2 l-2,-2z" fill="#000"/>
<ellipse cx="800" cy="513" rx="20.1" ry="29.5" fill="#fff" stroke="#000" stroke-width="1.8" transform="rotate(31.4 800 513)"/>
<polygon points="784.6,538.2 793.6,543.7 824.4,493.3 815.4,487.8" stroke="none" stroke-width="0" fill="#fff"/>
<line x1="784.6" y1="538.2" x2="793.6" y2="543.7" stroke="#000" stroke-width="1.8"/>
<line x1="824.4" y1="493.3" x2="815.4" y2="487.8" stroke="#000" stroke-width="1.8"/>
<ellipse cx="809" cy="518.5" rx="20.1" ry="29.5" fill="#fff" stroke="#000" stroke-width="1.8" transform="rotate(31.4 809 518.5)"/>
<ellipse cx="801" cy="513.5" rx="19" ry="28" fill="none" stroke="#000" stroke-width="1.0" transform="rotate(31.4 801 513.5)"/>
<ellipse cx="809" cy="518.5" rx="17" ry="25" fill="none" stroke="#000" stroke-width="1.2" transform="rotate(31.4 809 518.5)"/>
<ellipse cx="810" cy="519.5" rx="13.8" ry="23" fill="none" stroke="#000" stroke-width="3.2" transform="rotate(25.4 810 519.5)"/>
<path d="M806,490 l8,-3 l14,7 l-3,3 l-12,-5z" fill="#fff" stroke="#000" stroke-width="1.2"/>
<path d="M829,503 l4,1 l1,12 l-4,1z" fill="#fff" stroke="#000" stroke-width="1.2"/>
<path d="M787,527 l3,10 l8,4 l0,-8z" fill="#fff" stroke="#000" stroke-width="1.1"/>
<line x1="784" y1="502" x2="790" y2="505" stroke="#000" stroke-width="1.2"/>
<ellipse cx="851" cy="541.5" rx="18.2" ry="27.5" fill="#fff" stroke="#000" stroke-width="1.8" transform="rotate(27.3 851 541.5)"/>
<polygon points="838.4,565.9 852.9,573.4 878.1,524.6 863.6,517.1" stroke="none" stroke-width="0" fill="#fff"/>
<line x1="838.4" y1="565.9" x2="852.9" y2="573.4" stroke="#000" stroke-width="1.8"/>
<line x1="878.1" y1="524.6" x2="863.6" y2="517.1" stroke="#000" stroke-width="1.8"/>
<ellipse cx="865.5" cy="549" rx="18.2" ry="27.5" fill="#fff" stroke="#000" stroke-width="1.8" transform="rotate(27.3 865.5 549)"/>
<ellipse cx="865.5" cy="549" rx="16.2" ry="24.5" fill="none" stroke="#000" stroke-width="1.3" transform="rotate(27.3 865.5 549)"/>
<ellipse cx="862.5" cy="548" rx="13.6" ry="22" fill="none" stroke="#000" stroke-width="1.4" transform="rotate(27.3 862.5 548)"/>
<ellipse cx="866" cy="549.5" rx="13.3" ry="21.5" fill="none" stroke="#000" stroke-width="1.0" transform="rotate(27.3 866 549.5)"/>
<ellipse cx="902" cy="571.3" rx="15.8" ry="22.8" fill="none" stroke="#000" stroke-width="3.8" transform="rotate(22 902 571.3)"/>
<ellipse cx="902" cy="571.3" rx="15.8" ry="22.8" fill="none" stroke="#999" stroke-width="0.5" transform="rotate(22 902 571.3)"/>
<ellipse cx="943" cy="596" rx="17.7" ry="28.5" fill="url(#kn6)" stroke="#000" stroke-width="2.0" transform="rotate(26.9 943 596)"/>
<polygon points="930.1,621.4 950.8,631.9 976.6,581.1 955.9,570.6" stroke="none" stroke-width="0" fill="url(#kn6)"/>
<line x1="930.1" y1="621.4" x2="950.8" y2="631.9" stroke="#000" stroke-width="2.0"/>
<line x1="976.6" y1="581.1" x2="955.9" y2="570.6" stroke="#000" stroke-width="2.0"/>
<polyline points="931.4,620.8 929.7,619.4 928.3,617.7 927.2,615.6 926.3,613.3 925.7,610.7 925.5,607.9 925.5,605 925.8,601.9 926.4,598.8 927.3,595.6 928.4,592.4 929.9,589.3 931.5,586.4 933.4,583.6 935.4,581 937.6,578.6 939.9,576.6 942.3,574.8 944.7,573.4 947.1,572.3 949.5,571.6 951.8,571.4 954.1,571.5 956.1,571.9" stroke="#fff" stroke-width="3.2" fill="none"/>
<polyline points="932.3,621.9 930.7,620.5 929.3,618.7 928.1,616.6 927.2,614.2 926.6,611.6 926.3,608.8 926.4,605.8 926.7,602.6 927.3,599.4 928.2,596.2 929.4,593 930.8,589.8 932.5,586.8 934.4,584 936.5,581.3 938.7,578.9 941,576.8 943.5,575 945.9,573.6 948.4,572.5 950.8,571.8 953.2,571.5 955.5,571.6 957.6,572.1" stroke="#000" stroke-width="1.4" fill="none"/>
<ellipse cx="954.5" cy="578.5" rx="8.5" ry="4.6" fill="#fff" stroke="#000" stroke-width="1.5" transform="rotate(-22 954.5 578.5)"/>
<ellipse cx="963.7" cy="606.5" rx="17.7" ry="28.5" fill="#fff" stroke="#000" stroke-width="2.4" transform="rotate(26.9 963.7 606.5)"/>
<ellipse cx="963.2" cy="606.2" rx="16.1" ry="26" fill="none" stroke="#000" stroke-width="1.2" transform="rotate(26.9 963.2 606.2)"/>
<ellipse cx="965.2" cy="607.5" rx="14.6" ry="23.5" fill="#000" transform="rotate(26.9 965.2 607.5)"/>
<ellipse cx="962.2" cy="605.5" rx="13.6" ry="22" fill="#fff" stroke="#000" stroke-width="1.2" transform="rotate(26.9 962.2 605.5)"/>
<path d="M972.7,610.5 l5,-3 l1,4 l-5,3z" fill="#fff"/>
<line x1="955" y1="618" x2="968" y2="624" stroke="#000" stroke-width="1.3"/>
<ellipse cx="998" cy="627.5" rx="7.4" ry="13.5" fill="#fff" stroke="#000" stroke-width="1.6" transform="rotate(28.9 998 627.5)"/>
<polygon points="991.5,639.3 1020.5,655.3 1033.5,631.7 1004.5,615.7" stroke="none" stroke-width="0" fill="#fff"/>
<line x1="991.5" y1="639.3" x2="1020.5" y2="655.3" stroke="#000" stroke-width="1.6"/>
<line x1="1033.5" y1="631.7" x2="1004.5" y2="615.7" stroke="#000" stroke-width="1.6"/>
<polygon points="1041.1,649.9 1036.8,653.7 1033.4,658.7 1028.8,659.3 1024.1,661.7 1021,658.8 1017,657.8 1016.5,652.5 1014.6,648.4 1017,642.8 1017.9,637.1 1022.2,633.3 1025.6,628.3 1030.2,627.7 1034.9,625.3 1038,628.2 1042,629.2 1042.5,634.5 1044.4,638.6 1042,644.2" stroke="#000" stroke-width="1.6" fill="#fff"/>
<ellipse cx="1030" cy="644" rx="7.8" ry="12" fill="#fff" stroke="#000" stroke-width="1.6" transform="rotate(28.9 1030 644)"/>
<ellipse cx="1061" cy="662.4" rx="12.2" ry="17.8" fill="none" stroke="#000" stroke-width="3.5" transform="rotate(24 1061 662.4)"/>
<ellipse cx="1061" cy="662.4" rx="12.2" ry="17.8" fill="none" stroke="#999" stroke-width="0.5" transform="rotate(24 1061 662.4)"/>
<ellipse cx="1098.5" cy="683.5" rx="17" ry="23" fill="#fff" stroke="#000" stroke-width="2.0" transform="rotate(24 1098.5 683.5)"/>
<path d="M1087,667 l4,-2 l2,4 l-4,2z" fill="#000" stroke="#000" stroke-width="1"/>
<path d="M1078,692 l4,-1 l1,5 l-4,1z" fill="#000" stroke="#000" stroke-width="1"/>
<line x1="1034.3" y1="466.9" x2="1040" y2="470" stroke="#000" stroke-width="1.2"/>
<path d="M1189.5,673 Q1189.5,667.5 1194,665 L1309,597 Q1314,594.5 1318,597.5 Q1321,600 1321,605 L1321,737 Q1321,741 1317,743 L1200,810.5 Q1195,813 1192,810 Q1189.5,808 1189.5,804 Z" fill="#fff" stroke="#000" stroke-width="2.0"/>
<line x1="1197" y1="669.5" x2="1319.5" y2="600.5" stroke="#000" stroke-width="1.6"/>
<line x1="1198.5" y1="673" x2="1319" y2="603.5" stroke="#000" stroke-width="1.0"/>
<line x1="1197.5" y1="670" x2="1197.5" y2="811.5" stroke="#000" stroke-width="1.8"/>
<ellipse cx="1259" cy="655.5" rx="9.2" ry="4.2" fill="#000" transform="rotate(-28 1259 655.5)"/>
<ellipse cx="1260.3" cy="690.5" rx="11" ry="15.3" fill="none" stroke="#000" stroke-width="1.7" transform="rotate(16 1260.3 690.5)"/>
<ellipse cx="1260.8" cy="743.5" rx="19.2" ry="24.3" fill="none" stroke="#000" stroke-width="1.8" transform="rotate(16 1260.8 743.5)"/>
<path d="M1239.5,741.5 C1240.5,730 1247,718 1262,714 C1270,712.5 1277,713.5 1281.5,716.5" fill="none" stroke="#000" stroke-width="1.8"/>
<path d="M1256.5,714.5 l7,-3 l1,3.5 z" fill="#000" stroke="#000" stroke-width="1.2"/>
<g stroke="#9a9a9a" fill="none" stroke-width="1.2">
<path d="M196.8,649 L196.8,699 M215.8,649 L215.8,699"/>
<ellipse cx="206.3" cy="648.5" rx="10.2" ry="6.2" fill="#fff"/>
<ellipse cx="206.6" cy="650.2" rx="6.8" ry="3.4"/>
<path d="M196.3,649.5 L196.6,654 Q206.3,660 216,654 L216.3,649.5"/>
<path d="M203,642.6 L203,649.5 M209,642.6 L209,649.5 M199,653 L199.5,657 M213.5,653 L213,657"/>
<path d="M196.6,694.5 Q206.3,700 216,694.5 M196.3,695 L196.6,701 Q206.3,708 216,701 L216.3,695"/>
<path d="M200,697.5 L200,703.5 M206.3,699 L206.3,705 M212.5,697.5 L212.5,703.5"/>
<ellipse cx="200.5" cy="661" rx="1.7" ry="2.2"/><ellipse cx="200.5" cy="693" rx="1.7" ry="2.2"/>
<path d="M210.5,678.5 l4,-2.5 M210.5,676.5 l4,-2.5 M212.5,660 l0.6,1 M212.5,692.5 l0.6,1"/>
</g>
<ellipse cx="270" cy="659" rx="6.3" ry="15" fill="url(#kn5)" stroke="#000" stroke-width="1.5" transform="rotate(28.1 270 659)"/>
<polygon points="262.9,672.2 288.1,685.7 302.3,659.2 277.1,645.8" stroke="none" stroke-width="0" fill="url(#kn5)"/>
<line x1="262.9" y1="672.2" x2="288.1" y2="685.7" stroke="#000" stroke-width="1.5"/>
<line x1="302.3" y1="659.2" x2="277.1" y2="645.8" stroke="#000" stroke-width="1.5"/>
<ellipse cx="270" cy="659" rx="6.3" ry="15" fill="#000" transform="rotate(28.1 270 659)"/>
<ellipse cx="282" cy="665.4" rx="1.8" ry="15" fill="#000" transform="rotate(28.1 282 665.4)"/>
<ellipse cx="295.2" cy="672.4" rx="6.3" ry="15" fill="#000" transform="rotate(28.1 295.2 672.4)"/>
<ellipse cx="295.2" cy="672.4" rx="6.6" ry="15.8" fill="#fff" stroke="#000" stroke-width="1.6" transform="rotate(28.1 295.2 672.4)"/>
<polygon points="287.8,686.3 292,688.6 306.8,660.8 302.6,658.5" stroke="none" stroke-width="0" fill="#fff"/>
<line x1="287.8" y1="686.3" x2="292" y2="688.6" stroke="#000" stroke-width="1.6"/>
<line x1="306.8" y1="660.8" x2="302.6" y2="658.5" stroke="#000" stroke-width="1.6"/>
<ellipse cx="299.4" cy="674.7" rx="6.6" ry="15.8" fill="#fff" stroke="#000" stroke-width="1.6" transform="rotate(28.1 299.4 674.7)"/>
<ellipse cx="299.4" cy="674.7" rx="6.4" ry="15.3" fill="#000" stroke="#000" stroke-width="1.3" transform="rotate(28.1 299.4 674.7)"/>
<polygon points="292.2,688.2 298.8,691.7 313.2,664.7 306.6,661.2" stroke="none" stroke-width="0" fill="#000"/>
<line x1="292.2" y1="688.2" x2="298.8" y2="691.7" stroke="#000" stroke-width="1.3"/>
<line x1="313.2" y1="664.7" x2="306.6" y2="661.2" stroke="#000" stroke-width="1.3"/>
<ellipse cx="306" cy="678.2" rx="6.4" ry="15.3" fill="#000" stroke="#000" stroke-width="1.3" transform="rotate(28.1 306 678.2)"/>
<ellipse cx="301.8" cy="676" rx="4.5" ry="12.8" fill="none" stroke="#fff" stroke-width="1.0" transform="rotate(28.1 301.8 676)"/>
<ellipse cx="303" cy="676.6" rx="5.1" ry="8.5" fill="#111" stroke="#000" stroke-width="1.3" transform="rotate(28.1 303 676.6)"/>
<polygon points="299,684.1 326,698.5 334,683.5 307,669.1" stroke="none" stroke-width="0" fill="#111"/>
<line x1="299" y1="684.1" x2="326" y2="698.5" stroke="#000" stroke-width="1.3"/>
<line x1="334" y1="683.5" x2="307" y2="669.1" stroke="#000" stroke-width="1.3"/>
<ellipse cx="330" cy="691" rx="5.1" ry="8.5" fill="#fff" stroke="#000" stroke-width="1.3" transform="rotate(28.1 330 691)"/>
<polygon points="307.6,678.1 327.4,688.6 329.8,684.1 310,673.6" stroke="none" stroke-width="0" fill="#fff"/>
<ellipse cx="330" cy="691" rx="5.1" ry="8.5" fill="#fff" stroke="#000" stroke-width="1.5" transform="rotate(28.1 330 691)"/>
<ellipse cx="330" cy="691" rx="1" ry="2" fill="#000" transform="rotate(28.1 330 691)"/>
<ellipse cx="181" cy="785" rx="6.3" ry="15" fill="url(#kn5)" stroke="#000" stroke-width="1.5" transform="rotate(28.5 181 785)"/>
<polygon points="173.8,798.2 198.4,811.5 212.7,785.2 188.2,771.8" stroke="none" stroke-width="0" fill="url(#kn5)"/>
<line x1="173.8" y1="798.2" x2="198.4" y2="811.5" stroke="#000" stroke-width="1.5"/>
<line x1="212.7" y1="785.2" x2="188.2" y2="771.8" stroke="#000" stroke-width="1.5"/>
<ellipse cx="181" cy="785" rx="6.3" ry="15" fill="#000" transform="rotate(28.5 181 785)"/>
<ellipse cx="192.7" cy="791.4" rx="1.8" ry="15" fill="#000" transform="rotate(28.5 192.7 791.4)"/>
<ellipse cx="205.6" cy="798.4" rx="6.3" ry="15" fill="#000" transform="rotate(28.5 205.6 798.4)"/>
<ellipse cx="205.6" cy="798.4" rx="6.6" ry="15.8" fill="#fff" stroke="#000" stroke-width="1.6" transform="rotate(28.5 205.6 798.4)"/>
<polygon points="198,812.2 202.1,814.4 217.2,786.7 213.1,784.5" stroke="none" stroke-width="0" fill="#fff"/>
<line x1="198" y1="812.2" x2="202.1" y2="814.4" stroke="#000" stroke-width="1.6"/>
<line x1="217.2" y1="786.7" x2="213.1" y2="784.5" stroke="#000" stroke-width="1.6"/>
<ellipse cx="209.7" cy="800.6" rx="6.6" ry="15.8" fill="#fff" stroke="#000" stroke-width="1.6" transform="rotate(28.5 209.7 800.6)"/>
<ellipse cx="209.7" cy="800.6" rx="6.4" ry="15.3" fill="#000" stroke="#000" stroke-width="1.3" transform="rotate(28.5 209.7 800.6)"/>
<polygon points="202.4,814 208.8,817.5 223.4,790.6 217,787.1" stroke="none" stroke-width="0" fill="#000"/>
<line x1="202.4" y1="814" x2="208.8" y2="817.5" stroke="#000" stroke-width="1.3"/>
<line x1="223.4" y1="790.6" x2="217" y2="787.1" stroke="#000" stroke-width="1.3"/>
<ellipse cx="216.1" cy="804.1" rx="6.4" ry="15.3" fill="#000" stroke="#000" stroke-width="1.3" transform="rotate(28.5 216.1 804.1)"/>
<ellipse cx="212" cy="801.9" rx="4.5" ry="12.8" fill="none" stroke="#fff" stroke-width="1.0" transform="rotate(28.5 212 801.9)"/>
<ellipse cx="213.2" cy="802.5" rx="5.1" ry="8.5" fill="#111" stroke="#000" stroke-width="1.3" transform="rotate(28.5 213.2 802.5)"/>
<polygon points="209.1,810 235.4,824.3 243.6,809.3 217.2,795" stroke="none" stroke-width="0" fill="#111"/>
<line x1="209.1" y1="810" x2="235.4" y2="824.3" stroke="#000" stroke-width="1.3"/>
<line x1="243.6" y1="809.3" x2="217.2" y2="795" stroke="#000" stroke-width="1.3"/>
<ellipse cx="239.5" cy="816.8" rx="5.1" ry="8.5" fill="#fff" stroke="#000" stroke-width="1.3" transform="rotate(28.5 239.5 816.8)"/>
<polygon points="217.7,804 237,814.5 239.4,810 220.1,799.5" stroke="none" stroke-width="0" fill="#fff"/>
<ellipse cx="239.5" cy="816.8" rx="5.1" ry="8.5" fill="#fff" stroke="#000" stroke-width="1.5" transform="rotate(28.5 239.5 816.8)"/>
<ellipse cx="239.5" cy="816.8" rx="1" ry="2" fill="#000" transform="rotate(28.5 239.5 816.8)"/>
<ellipse cx="361" cy="640" rx="5.8" ry="11.5" fill="#000" stroke="#000" stroke-width="1.3" transform="rotate(29.9 361 640)"/>
<polygon points="355.3,650 362,653.8 373.5,633.9 366.7,630" stroke="none" stroke-width="0" fill="#000"/>
<line x1="355.3" y1="650" x2="362" y2="653.8" stroke="#000" stroke-width="1.3"/>
<line x1="373.5" y1="633.9" x2="366.7" y2="630" stroke="#000" stroke-width="1.3"/>
<ellipse cx="367.7" cy="643.9" rx="5.8" ry="11.5" fill="#000" stroke="#000" stroke-width="1.3" transform="rotate(29.9 367.7 643.9)"/>
<ellipse cx="367.7" cy="643.9" rx="5.5" ry="11" fill="#fff" stroke="#000" stroke-width="1.6" transform="rotate(29.9 367.7 643.9)"/>
<polygon points="362.2,653.4 370.1,657.9 381,638.9 373.2,634.3" stroke="none" stroke-width="0" fill="#fff"/>
<line x1="362.2" y1="653.4" x2="370.1" y2="657.9" stroke="#000" stroke-width="1.6"/>
<line x1="381" y1="638.9" x2="373.2" y2="634.3" stroke="#000" stroke-width="1.6"/>
<ellipse cx="375.6" cy="648.4" rx="6.8" ry="13.5" fill="#000" stroke="#000" stroke-width="1.3" transform="rotate(29.9 375.6 648.4)"/>
<polygon points="368.8,660.1 375.5,664 389,640.6 382.3,636.7" stroke="none" stroke-width="0" fill="#000"/>
<line x1="368.8" y1="660.1" x2="375.5" y2="664" stroke="#000" stroke-width="1.3"/>
<line x1="389" y1="640.6" x2="382.3" y2="636.7" stroke="#000" stroke-width="1.3"/>
<ellipse cx="382.3" cy="652.3" rx="6.8" ry="13.5" fill="#000" stroke="#000" stroke-width="1.3" transform="rotate(29.9 382.3 652.3)"/>
<ellipse cx="380" cy="651" rx="3" ry="9.5" fill="none" stroke="#fff" stroke-width="1.0" transform="rotate(29.9 380 651)"/>
<ellipse cx="382.3" cy="652.3" rx="6.8" ry="13.5" fill="#fff" stroke="#000" stroke-width="1.6" transform="rotate(29.9 382.3 652.3)"/>
<polygon points="375.5,664 381.1,667.2 394.6,643.8 389,640.6" stroke="none" stroke-width="0" fill="#fff"/>
<line x1="375.5" y1="664" x2="381.1" y2="667.2" stroke="#000" stroke-width="1.6"/>
<line x1="394.6" y1="643.8" x2="389" y2="640.6" stroke="#000" stroke-width="1.6"/>
<path d="M383.6,644.2 l4,2" fill="none" stroke="#000" stroke-width="1.6"/>
<ellipse cx="387.9" cy="655.5" rx="7.8" ry="15.5" fill="#fff" stroke="#000" stroke-width="1.8" transform="rotate(29.9 387.9 655.5)"/>
<polygon points="380.1,668.9 390.2,674.7 405.7,647.9 395.6,642" stroke="none" stroke-width="0" fill="#fff"/>
<line x1="380.1" y1="668.9" x2="390.2" y2="674.7" stroke="#000" stroke-width="1.8"/>
<line x1="405.7" y1="647.9" x2="395.6" y2="642" stroke="#000" stroke-width="1.8"/>
<ellipse cx="398" cy="661.3" rx="7.8" ry="15.5" fill="#fff" stroke="#000" stroke-width="1.8" transform="rotate(29.9 398 661.3)"/>
<ellipse cx="392.4" cy="658.1" rx="7.8" ry="15.5" fill="none" stroke="#000" stroke-width="1.2" transform="rotate(29.9 392.4 658.1)"/>
<ellipse cx="398" cy="661.3" rx="6.2" ry="12.5" fill="none" stroke="#000" stroke-width="2.2" transform="rotate(29.9 398 661.3)"/>
<ellipse cx="398" cy="661.3" rx="4.7" ry="8.5" fill="#fff" stroke="#000" stroke-width="1.4" transform="rotate(29.9 398 661.3)"/>
<polygon points="393.7,668.7 401.6,673.2 410,658.4 402.2,653.9" stroke="none" stroke-width="0" fill="#fff"/>
<line x1="393.7" y1="668.7" x2="401.6" y2="673.2" stroke="#000" stroke-width="1.4"/>
<line x1="410" y1="658.4" x2="402.2" y2="653.9" stroke="#000" stroke-width="1.4"/>
<ellipse cx="405.8" cy="665.8" rx="4.1" ry="7.5" fill="#000" stroke="#000" stroke-width="1.3" transform="rotate(29.9 405.8 665.8)"/>
<polygon points="402.1,672.3 409.9,676.8 417.4,663.8 409.5,659.3" stroke="none" stroke-width="0" fill="#000"/>
<line x1="402.1" y1="672.3" x2="409.9" y2="676.8" stroke="#000" stroke-width="1.3"/>
<line x1="417.4" y1="663.8" x2="409.5" y2="659.3" stroke="#000" stroke-width="1.3"/>
<ellipse cx="413.6" cy="670.3" rx="4.1" ry="7.5" fill="#000" stroke="#000" stroke-width="1.3" transform="rotate(29.9 413.6 670.3)"/>
<ellipse cx="410.3" cy="668.4" rx="2" ry="5" fill="none" stroke="#fff" stroke-width="1.0" transform="rotate(29.9 410.3 668.4)"/>
<ellipse cx="413.6" cy="670.3" rx="2.4" ry="4.4" fill="url(#thr)" stroke="#000" stroke-width="1.5" transform="rotate(29.9 413.6 670.3)"/>
<polygon points="411.4,674.1 470.8,708.3 475.2,700.7 415.8,666.5" stroke="none" stroke-width="0" fill="url(#thr)"/>
<line x1="411.4" y1="674.1" x2="470.8" y2="708.3" stroke="#000" stroke-width="1.5"/>
<line x1="475.2" y1="700.7" x2="415.8" y2="666.5" stroke="#000" stroke-width="1.5"/>
<ellipse cx="473" cy="704.5" rx="2.4" ry="4.4" fill="#fff" stroke="#000" stroke-width="1.5" transform="rotate(29.9 473 704.5)"/>
<polygon points="416,674 469.8,704.9 469,706.3 415.2,675.4" stroke="none" stroke-width="0" fill="#fff"/>
<ellipse cx="473" cy="704.5" rx="1" ry="2" fill="#000" transform="rotate(29.9 473 704.5)"/>
<rect x="265" y="761.5" width="9.5" height="32" rx="4.7" fill="#fff" stroke="#000" stroke-width="1.4"/>
<line x1="269.7" y1="765" x2="269.7" y2="791" stroke="#000" stroke-width="1.1"/>
<line x1="267.2" y1="766" x2="272.2" y2="766" stroke="#000" stroke-width="0.9"/>
<line x1="267.2" y1="771" x2="272.2" y2="771" stroke="#000" stroke-width="0.9"/>
<line x1="267.2" y1="776" x2="272.2" y2="776" stroke="#000" stroke-width="0.9"/>
<line x1="267.2" y1="781" x2="272.2" y2="781" stroke="#000" stroke-width="0.9"/>
<line x1="267.2" y1="786" x2="272.2" y2="786" stroke="#000" stroke-width="0.9"/>
<circle cx="269.6" cy="798.3" r="8.2" fill="#000"/>
<rect x="352.2" y="761.5" width="9.5" height="32" rx="4.7" fill="#000" stroke="#000" stroke-width="1.4"/>
<rect x="354" y="763.5" width="6" height="6" rx="2.5" fill="#fff"/>
<line x1="357" y1="764" x2="357" y2="769" stroke="#000" stroke-width="1.0"/>
<line x1="355.5" y1="765.5" x2="358.5" y2="765.5" stroke="#000" stroke-width="0.9"/>
<circle cx="356.9" cy="799.6" r="8.2" fill="#000"/>
<path d="M289.1,773.6 A27.8,27.8 0 0 1 339.0,797.9" fill="none" stroke="#000" stroke-width="8.5"/>
<path d="M331.5,784.5 L350,788.4 L337.5,798 Z" fill="#000"/>
<path d="M338.2,799.7 A27.8,27.8 0 0 1 286.3,780.3" fill="none" stroke="#000" stroke-width="8.5"/>
<path d="M276.3,785.5 L287.7,775.5 L294.5,789.5 Z" fill="#000"/>
<path d="M408.6,805 L408.6,828.5 A11.1,4 0 0 0 430.8,828.5 L430.8,805 Z" fill="#fff" stroke="#000" stroke-width="1.6"/>
<path d="M408.6,806 L430.8,806 L430.8,817 A11.1,4 0 0 1 408.6,817 Z" fill="#000"/>
<path d="M409.5,809.5 A10.5,3.2 0 0 0 430,809.5" stroke="#fff" stroke-width="1.1" fill="none"/>
<path d="M409.5,813 A10.5,3.2 0 0 0 430,813" stroke="#fff" stroke-width="0.8" fill="none"/>
<path d="M412,820 l0,5 M427.5,820 l0,5" stroke="#000" stroke-width="1.6"/>
<path d="M397,777.6 L417.8,765.3 L428.5,766.1 L440.3,773.1 L441.5,803.5 L435,804.5 L434.6,789 L420.5,795 L420.5,803.5 L413,803.5 L413,793 L402.5,787 L402.5,795.5 L397,795 Z" fill="#fff" stroke="#000" stroke-width="1.9"/>
<polyline points="397,777.6 417.8,789.8 440.3,773.1" stroke="#000" stroke-width="1.9" fill="none"/>
<line x1="417.8" y1="789.8" x2="417.8" y2="795" stroke="#000" stroke-width="1.4"/>
<line x1="436.5" y1="790" x2="436.5" y2="803" stroke="#000" stroke-width="1.0"/>
<ellipse cx="419.5" cy="777.3" rx="12" ry="6.3" fill="none" stroke="#000" stroke-width="2.0" transform="rotate(-8 419.5 777.3)"/>
<ellipse cx="419.6" cy="777.4" rx="7.6" ry="3.9" fill="none" stroke="#000" stroke-width="1.7" transform="rotate(-8 419.6 777.4)"/>
<ellipse cx="419.7" cy="777.5" rx="3.6" ry="1.9" fill="none" stroke="#000" stroke-width="1.2" transform="rotate(-8 419.7 777.5)"/>
<path d="M427,766 l3,-1 l1,3 l-3,1z" fill="#000"/>
<ellipse cx="495.7" cy="764.9" rx="26.2" ry="26.2" fill="none" stroke="#000" stroke-width="1.3"/>
<ellipse cx="495.7" cy="764.9" rx="24.4" ry="24.4" fill="none" stroke="#7a7a7a" stroke-width="2.6"/>
<ellipse cx="495.7" cy="764.9" rx="22.6" ry="22.6" fill="none" stroke="#000" stroke-width="1.1"/>
<path d="M477.7,756.9 L499.7,765.4 Q504.2,766.9 503.7,761.9 L503.7,757.9 Q503.7,754.9 500.7,753.9 L484.7,745.9" fill="#fff" stroke="#000" stroke-width="1.2"/>
<path d="M480.7,751.4 L499.7,759.9 Q503.7,761.9 503.7,763.9" fill="none" stroke="#000" stroke-width="1.2"/>
<path d="M494.7,765.4 L501.7,765.4 L501.7,768.4 L494.7,768.4 Z" fill="#fff" stroke="#000" stroke-width="1.0"/>
<path d="M495.2,768.4 L501.2,768.4 L503.2,784.4 L493.2,784.4 Z" fill="#000"/>
<line x1="477.2" y1="774.9" x2="514.2" y2="753.4" stroke="#000" stroke-width="3.8"/>
<line x1="477.2" y1="774.9" x2="514.2" y2="753.4" stroke="#7a7a7a" stroke-width="1.8"/>
<ellipse cx="557.4" cy="804.3" rx="26.2" ry="26.2" fill="none" stroke="#000" stroke-width="1.3"/>
<ellipse cx="557.4" cy="804.3" rx="24.4" ry="24.4" fill="none" stroke="#7a7a7a" stroke-width="2.6"/>
<ellipse cx="557.4" cy="804.3" rx="22.6" ry="22.6" fill="none" stroke="#000" stroke-width="1.1"/>
<path d="M539.4,796.3 L561.4,804.8 Q565.9,806.3 565.4,801.3 L565.4,797.3 Q565.4,794.3 562.4,793.3 L546.4,785.3" fill="#fff" stroke="#000" stroke-width="1.2"/>
<path d="M542.4,790.8 L561.4,799.3 Q565.4,801.3 565.4,803.3" fill="none" stroke="#000" stroke-width="1.2"/>
<path d="M556.4,804.8 L563.4,804.8 L563.4,807.8 L556.4,807.8 Z" fill="#fff" stroke="#000" stroke-width="1.0"/>
<path d="M556.9,807.8 L562.9,807.8 L564.9,823.8 L554.9,823.8 Z" fill="#000"/>
<ellipse cx="627.5" cy="768.5" rx="2.4" ry="4.8" fill="#111" stroke="#000" stroke-width="1.3" transform="rotate(30.6 627.5 768.5)"/>
<polygon points="625.1,772.6 666.6,797.1 671.4,788.9 629.9,764.4" stroke="none" stroke-width="0" fill="#111"/>
<line x1="625.1" y1="772.6" x2="666.6" y2="797.1" stroke="#000" stroke-width="1.3"/>
<line x1="671.4" y1="788.9" x2="629.9" y2="764.4" stroke="#000" stroke-width="1.3"/>
<ellipse cx="669" cy="793" rx="2.4" ry="4.8" fill="#fff" stroke="#000" stroke-width="1.3" transform="rotate(30.6 669 793)"/>
<line x1="632.9" y1="768.8" x2="668.2" y2="789.6" stroke="#fff" stroke-width="1.0"/>
<ellipse cx="601" cy="808" rx="4.5" ry="8.2" fill="#fff" stroke="#000" stroke-width="1.5" transform="rotate(30.6 601 808)"/>
<polygon points="596.8,815.1 621.3,829.6 629.7,815.4 605.2,800.9" stroke="none" stroke-width="0" fill="#fff"/>
<line x1="596.8" y1="815.1" x2="621.3" y2="829.6" stroke="#000" stroke-width="1.5"/>
<line x1="629.7" y1="815.4" x2="605.2" y2="800.9" stroke="#000" stroke-width="1.5"/>
<ellipse cx="625.5" cy="822.5" rx="4.5" ry="8.2" fill="#fff" stroke="#000" stroke-width="1.5" transform="rotate(30.6 625.5 822.5)"/>
<line x1="604.6" y1="802" x2="629.1" y2="816.5" stroke="#000" stroke-width="2.4"/>
<ellipse cx="625.5" cy="822.5" rx="3" ry="5.5" fill="none" stroke="#000" stroke-width="1.2" transform="rotate(30 625.5 822.5)"/>
<ellipse cx="635" cy="800" rx="5.5" ry="10" fill="#fff" stroke="#000" stroke-width="1.4" transform="rotate(30 635 800)"/>
<polygon points="630,808.7 659.5,825.7 669.5,808.3 640,791.3" stroke="none" stroke-width="0" fill="#fff"/>
<line x1="630" y1="808.7" x2="659.5" y2="825.7" stroke="#000" stroke-width="1.4"/>
<line x1="669.5" y1="808.3" x2="640" y2="791.3" stroke="#000" stroke-width="1.4"/>
<polygon points="672,822 669.2,824 667.3,827.1 664.5,827.1 661.7,828.7 660,826.7 657.4,826.2 657.4,823 656,820.6 657.7,817.4 658,814 660.8,812 662.7,808.9 665.5,808.9 668.3,807.3 670,809.3 672.6,809.8 672.6,813 674,815.4 672.3,818.6" stroke="#000" stroke-width="1.4" fill="#fff"/>
<ellipse cx="665.5" cy="818.5" rx="4.5" ry="7" fill="none" stroke="#000" stroke-width="1.2" transform="rotate(30 665.5 818.5)"/>
<g stroke="#000" fill="#fff">
<path d="M690.5,748 L695.5,745 L695.5,829 L690.5,827 Z" stroke-width="1.3"/>
<path d="M695.5,745 L718.5,742 L718.5,831 L695.5,829 Z" stroke-width="1.4"/>
<rect x="718.5" y="741.5" width="3" height="90" fill="#000" stroke="none"/>
<path d="M721.5,754 L725,754 L725,757 L728,757 L728,786 L721.5,786 Z" stroke-width="1.2"/>
<path d="M721.5,796 L728,796 L728,800 L731,800 L731,828 L721.5,828 Z" stroke-width="1.2"/>
</g>
<line x1="704" y1="745" x2="704" y2="829" stroke="#000" stroke-width="1.0"/>
<line x1="700" y1="760" x2="700" y2="764" stroke="#000" stroke-width="1.0"/>
<line x1="700" y1="798" x2="700" y2="802" stroke="#000" stroke-width="1.0"/>
<ellipse cx="705.4" cy="786.8" rx="7.3" ry="7.3" fill="#000"/>
<ellipse cx="705.4" cy="786.8" rx="3.2" ry="3.2" fill="#fff"/>
<ellipse cx="705.4" cy="820.5" rx="7" ry="5.5" fill="#000"/>
<ellipse cx="705.4" cy="820.5" rx="3.5" ry="2" fill="#fff"/>
<rect x="728" y="762.5" width="6.5" height="20" fill="#fff" stroke="#000" stroke-width="1.2"/>
<rect x="734.5" y="764.5" width="4" height="16" fill="#fff" stroke="#000" stroke-width="1.1"/>
<rect x="738.5" y="762" width="7" height="20" fill="#fff" stroke="#000" stroke-width="1.3"/>
<rect x="745.5" y="765" width="6" height="13" fill="#fff" stroke="#000" stroke-width="1.2"/>
<rect x="751.5" y="768.5" width="17.5" height="2.6" fill="#000"/>
<rect x="751.5" y="773.3" width="17.5" height="2.4" fill="#000"/>
<rect x="769" y="768.5" width="17" height="2.6" fill="#aaa"/>
<rect x="769" y="773.3" width="17" height="2.4" fill="#aaa"/>
<rect x="731" y="802" width="6" height="20" fill="#fff" stroke="#000" stroke-width="1.2"/>
<rect x="737" y="805" width="26.5" height="14" fill="#000"/>
<rect x="739" y="808" width="23" height="1.6" fill="#fff"/>
<line x1="733" y1="754.5" x2="766" y2="754.5" stroke="#888" stroke-width="1.0"/>
<path d="M769.5,754.5 l-6,-2 l0,4z" fill="#888"/>
<line x1="769.5" y1="749.5" x2="769.5" y2="775" stroke="#888" stroke-width="1.2"/>
<line x1="786" y1="749.5" x2="786" y2="777" stroke="#888" stroke-width="1.2"/>
<line x1="789" y1="754.5" x2="805" y2="754.5" stroke="#888" stroke-width="1.0"/>
<path d="M786,754.5 l6,-2 l0,4z" fill="#888"/>
<line x1="752" y1="482" x2="1083" y2="668.5" stroke="#000" stroke-width="1.1" stroke-dasharray="26 4 5 4"/>
<text style="mix-blend-mode:multiply" x="0" y="0" font-size="54.5" fill="#d5d5d5" transform="translate(612,609) rotate(-44.3)" font-family="Liberation Sans">svit-lamp.com.ua</text>
</svg>
</body></html>
